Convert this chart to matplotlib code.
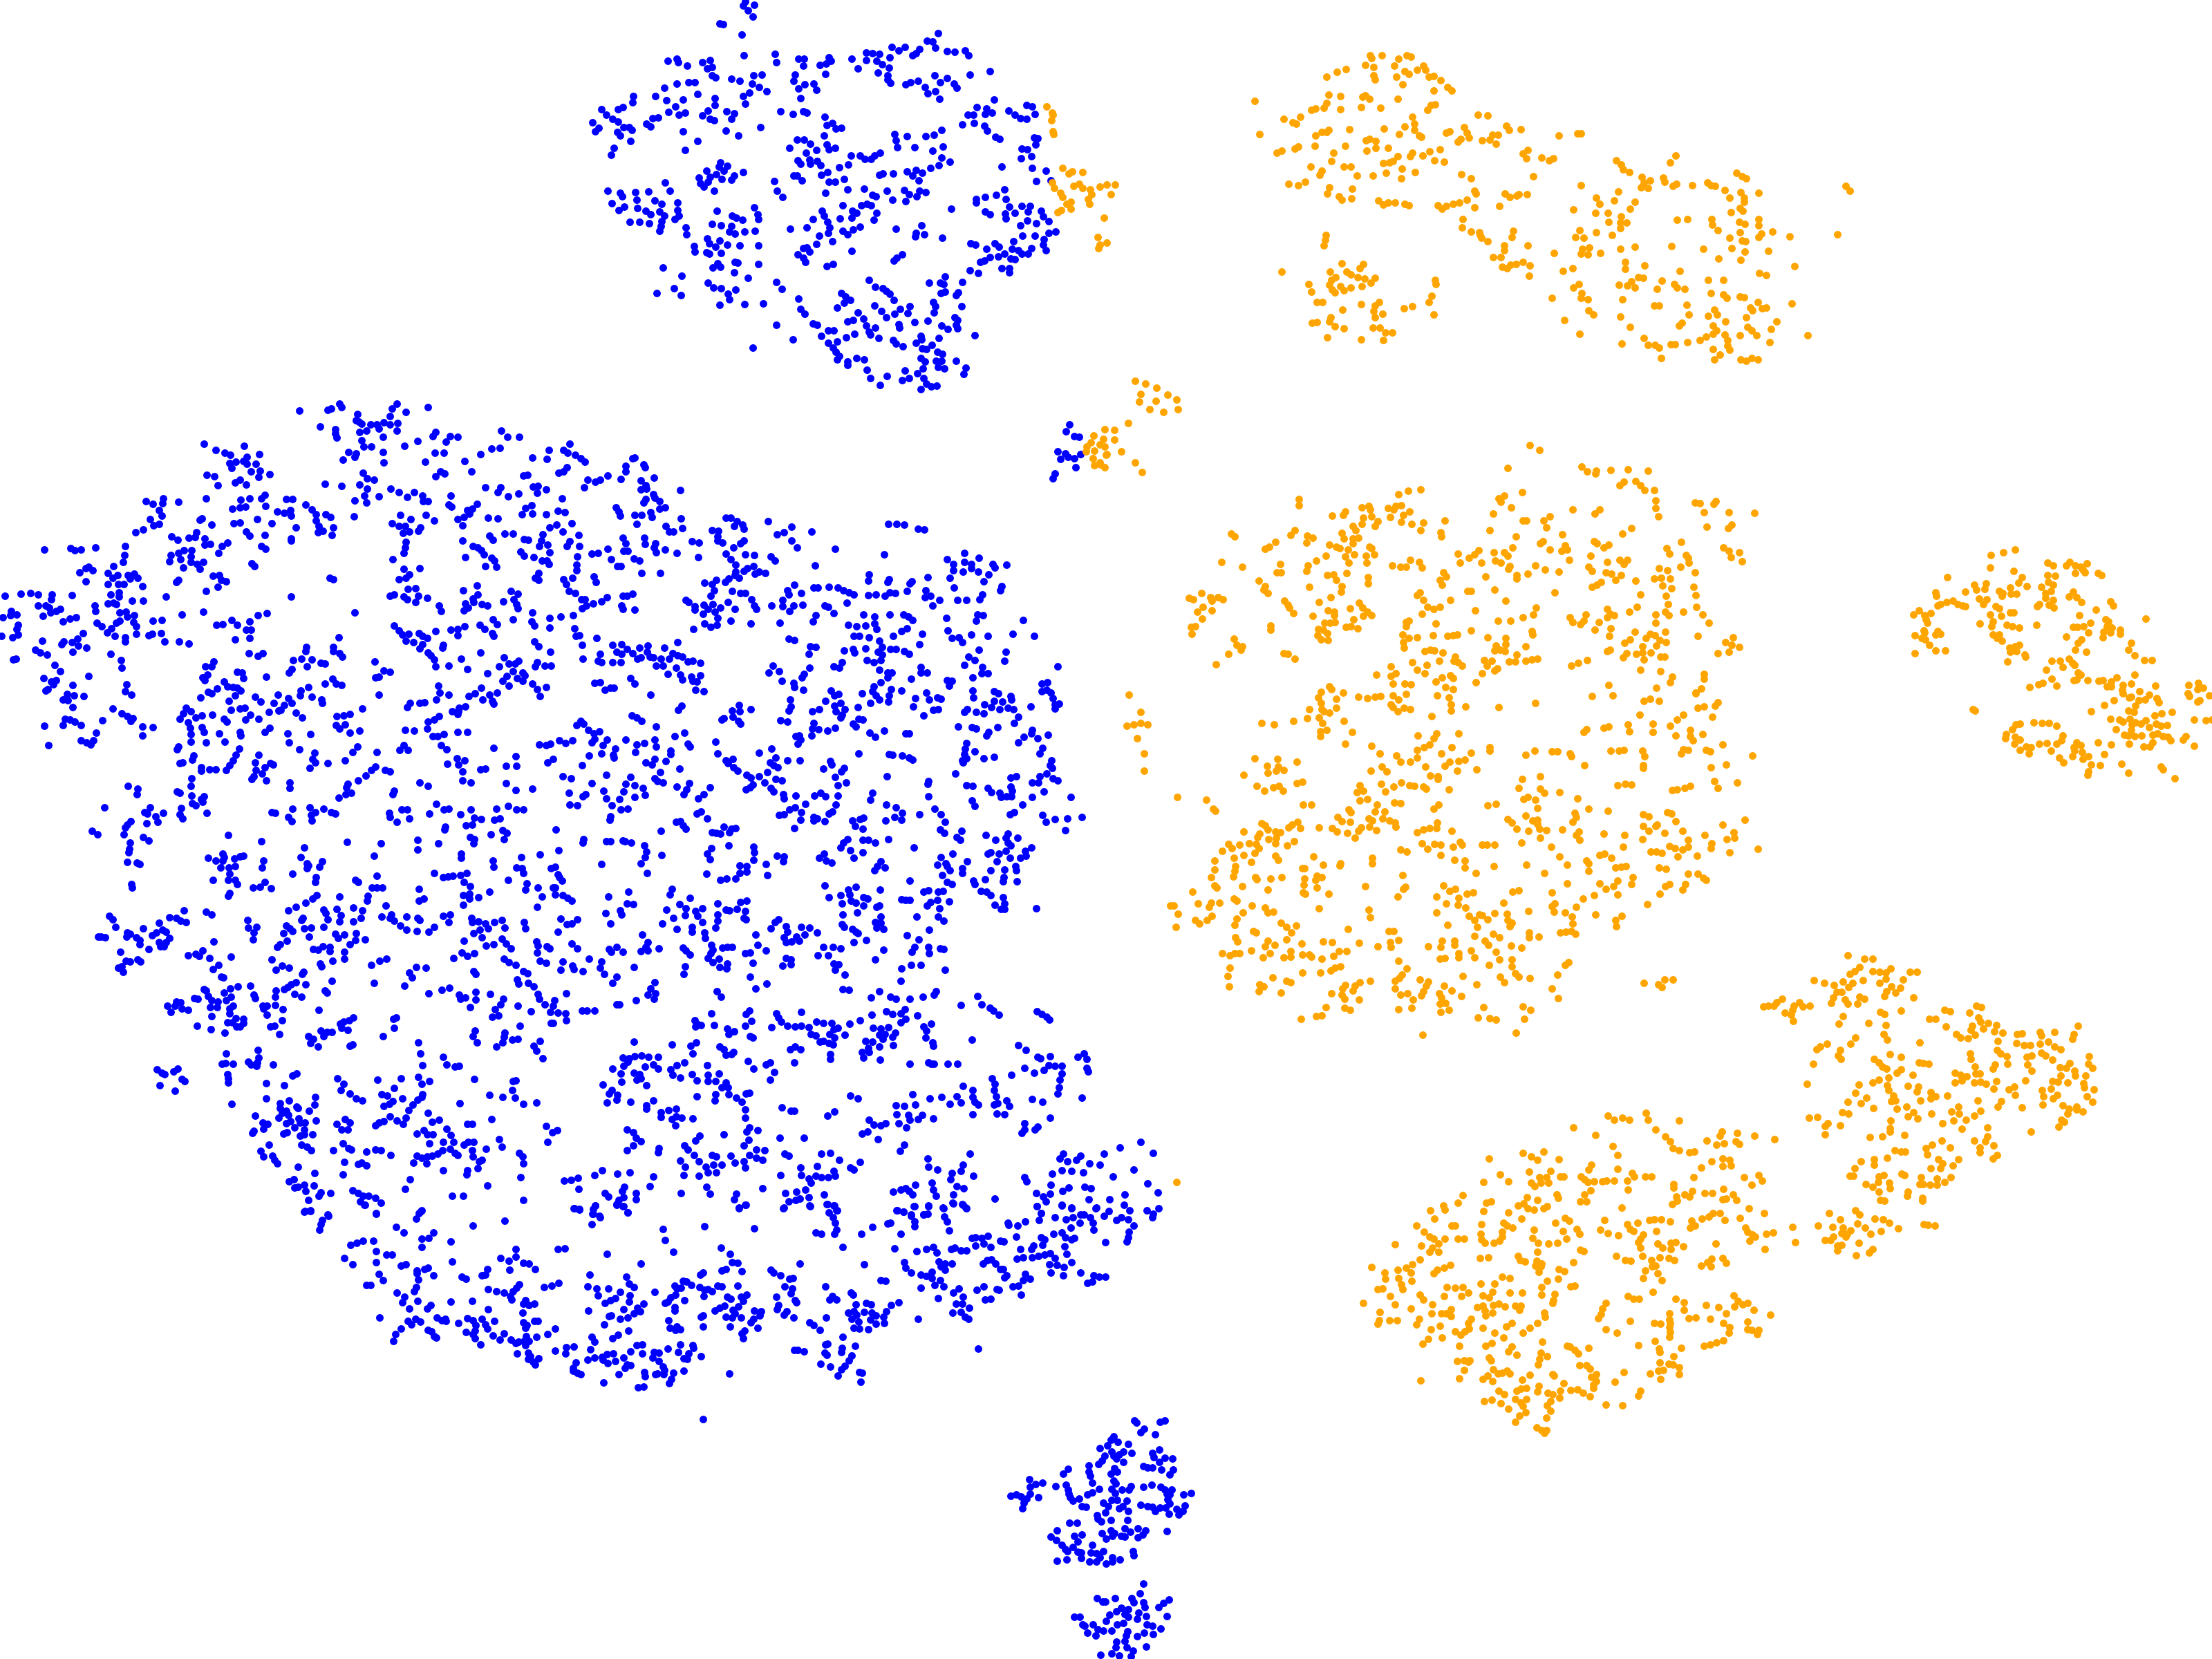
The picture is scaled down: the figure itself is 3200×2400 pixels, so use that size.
import numpy as np
import matplotlib
matplotlib.use("Agg")
import matplotlib.pyplot as plt

GRID = 1568
BLUE = "#0000ff"
ORANGE = "#ffa500"

# x0, y0, w, h of each crop in image pixels
BOX_A = (820, 0, 800, 600)
BOX_B = (0, 560, 800, 600)
BOX_C = (800, 560, 800, 600)
BOX_D = (0, 1160, 800, 600)
BOX_E = (800, 1160, 800, 600)
BOX_F = (300, 1740, 880, 660)
BOX_G = (1180, 1740, 880, 660)
BOX_H = (1780, 40, 940, 705)
BOX_I = (1680, 640, 900, 675)
BOX_J = (1680, 1000, 900, 675)
BOX_K = (2500, 760, 700, 525)
BOX_L = (1960, 1360, 1100, 825)
BOX_M = (0, 0, GRID, GRID)

blue_a = [(505,5),(500,22),(531,18),(514,40),(528,62),(433,90),(442,92),(495,130),(502,209),(590,204),(594,236),(286,231),(312,222),(316,236),(342,248),(385,236),(405,228),(412,254),(398,260),(412,285),(422,292),(467,297),(490,307),(530,285),(553,282),(525,316),(545,330),(566,344),(518,350),(500,362),(505,393),(656,223),(672,222),(671,247),(718,245),(742,218),(748,230),(735,240),(733,280),(646,283),(642,305),(656,335),(675,320),(700,315),(708,340),(662,370),(807,222),(826,258),(848,198),(866,200),(886,204),(848,228),(878,230),(893,242),(882,274),(914,256),(910,285),(910,300),(918,314),(922,178),(915,216),(940,190),(958,178),(980,208),(1000,186),(990,200),(1021,154),(1037,158),(1052,126),(1045,180),(1078,194),(1100,196),(1128,192),(1138,208),(1143,283),(1200,268),(1042,286),(1078,294),(1058,312),(1098,315),(1105,331),(960,320),(975,312),(996,306),(1015,328),(1024,354),(1044,344),(1057,374),(1212,377),(1190,410),(1162,404),(1205,425),(1185,432),(1137,433),(1153,433),(1122,470),(1155,465),(1183,475),(1192,495),(1215,518),(1226,525),(1252,419),(1270,435),(1285,448),(1304,449),(1303,397),(1319,402),(1327,432),(1325,520),(1335,523),(1328,546),(1290,562),(1305,565),(1318,590),(1287,598),(1232,629),(1319,634),(1358,646),(1372,681),(1330,684),(72,463),(90,483),(80,496),(98,414),(112,435),(130,449),(145,460),(145,413),(158,405),(188,362),(187,388),(143,498),(150,512),(160,482),(176,482),(184,490),(181,533),(133,558),(125,585),(225,468),(237,477),(243,446),(259,445),(251,362),(277,332),(312,316),(345,310),(362,312),(282,380),(330,376),(371,356),(420,370),(420,397),(308,402),(288,423),(318,435),(336,425),(385,437),(400,418),(406,450),(418,456),(330,497),(450,493),(453,420),(474,428),(466,450),(487,513),(549,481),(605,422),(640,432),(670,422),(681,426),(731,442),(736,472),(753,464),(763,487),(779,483),(730,512),(370,533),(336,567),(435,615),(432,630),(455,628),(444,645),(396,646),(423,658),(405,670),(500,652),(474,664),(440,676),(466,680),(375,671),(378,692),(388,706),(400,688),(418,721),(278,689),(292,720),(115,722),(150,730),(157,742),(194,726),(231,723),(198,756),(249,759),(127,769),(162,782),(147,794),(200,787),(223,797),(238,809),(268,772),(262,800),(276,816),(268,835),(266,855),(262,873),(178,838),(206,839),(233,845),(305,829),(318,816),(314,795),(313,765),(337,860),(340,886),(426,796),(411,847),(438,853),(468,815),(480,822),(497,832),(531,783),(540,810),(542,828),(466,855),(460,875),(477,884),(504,875),(534,873),(398,902),(404,920),(434,909),(422,932),(455,925),(490,929),(543,927),(360,930),(362,950),(395,953),(403,959),(438,957),(477,990),(485,994),(543,999),(427,995),(413,1012),(435,1010),(272,1012),(325,1043),(474,1030),(513,1051),(400,1069),(415,1087),(438,1090),(478,1095),(303,1091),(254,1107),(323,1115),(456,1111),(461,1131),(433,1153),(503,1150),(556,1147),(594,1065),(610,1092),(657,1130),(662,1167),(675,1187),(594,1227),(641,1284),(528,1315),(697,1222),(710,1227)]
blue_a2 = [(653,527),(672,527),(690,543),(708,566),(632,558),(678,578),(655,606),(662,620),(687,603),(690,620),(710,610),(720,625),(737,545),(742,565),(761,558),(806,587),(831,587),(845,600),(862,600),(872,587),(887,578),(797,623),(773,633),(738,650),(722,661),(642,664),(653,664),(667,682),(588,685),(743,687),(761,687),(785,676),(733,728),(796,716),(596,722),(612,745),(843,714),(866,737),(876,742),(908,722),(923,754),(956,718),(960,760),(970,735),(1000,720),(1018,727),(991,741),(886,660),(896,657),(926,657),(965,647),(989,643),(980,665),(1007,654),(997,683),(1031,636),(1055,625),(1086,612),(1063,597),(1037,570),(1066,555),(986,557),(936,556),(932,530),(930,508),(965,515),(1018,514),(1040,510),(1062,491),(1090,789),(783,775),(834,775),(850,771),(863,777),(810,797),(822,804),(879,804),(807,823),(775,825),(723,797),(729,815),(698,828),(739,840),(680,860),(633,866),(745,860),(740,880),(715,892),(782,873),(796,885),(812,868),(832,856),(870,830),(708,922),(752,913),(670,938),(680,935),(687,950),(655,961),(670,975),(676,990),(736,1007),(754,998),(808,949),(932,866),(1005,852),(990,880),(988,895),(1014,887),(1064,898),(950,962),(935,975),(928,985),(1160,752),(1185,746),(1160,767),(1218,737),(1240,717),(1245,753),(1254,781),(1289,778),(1314,780),(1307,800),(1185,800),(1200,811),(1243,808),(1270,805),(1245,825),(1345,798),(1350,818),(1366,837),(1305,833),(1330,843),(1286,852),(1292,891),(1326,891),(1385,875),(1366,880),(1353,903),(1351,925),(1358,945),(1317,938),(1266,912),(1262,940),(1280,945),(1290,960),(1308,960),(1213,920),(1225,932),(1190,940),(1145,921),(1158,926),(1200,971),(1224,969),(1240,960),(1258,978),(1270,980),(1172,990),(1183,985),(1143,1023),(1167,1033),(1232,1014),(1255,1015),(1255,1030),(857,1058),(874,1085),(895,1090),(905,1100),(915,1110),(928,1133),(779,1108),(790,1120),(803,1133),(785,1145),(766,1163),(873,1154),(892,1175),(905,1200),(930,1187),(945,1168),(972,1157),(967,1183),(826,1180),(840,1205),(848,1231),(796,1214),(812,1210),(875,1238),(940,1225),(942,1240),(986,1217),(1023,1212),(1027,1070),(1058,1070),(1072,1045),(1068,1075),(1121,1067),(1072,1102),(1060,1109),(1110,1105),(1103,1116),(1039,1142),(1045,1157),(1040,1180),(1119,1158),(1100,1200),(1108,1211),(1104,1228),(1107,1241),(1062,1231),(1079,1243),(1156,1268),(1055,1277),(1003,1270),(1005,1283),(990,1295),(722,1270),(740,1250),(757,1250),(767,1291),(792,1275),(815,1262),(856,1255),(860,1265),(884,1277),(926,1285),(932,1300),(953,1308),(741,1296),(755,1315),(762,1330),(772,1345),(766,1358),(796,1368),(796,1380),(822,1354),(843,1359),(850,1398),(860,1430),(888,1455),(907,1422),(958,1400),(950,1438),(970,1430),(993,1411),(1010,1393),(1008,1317),(1020,1320),(1035,1305),(1050,1331),(1065,1339),(1004,1353),(1015,1368),(1047,1365),(1062,1365),(1052,1388),(1070,1392),(1104,1363),(1130,1391),(1125,1415),(1012,1430),(1020,1450),(1048,1457),(1032,1460),(1004,1471)]
orange_a = [(1360,402),(1375,425),(1378,433),(1374,456),(1378,497),(1380,508),(1375,690),(1382,712),(1400,730),(1405,745),(1405,635),(1432,648),(1422,656),(1462,651),(1436,704),(1452,695),(1462,712),(1483,717),(1487,735),(1478,752),(1481,770),(1512,706),(1530,698),(1554,698),(1543,734),(1417,770),(1429,788),(1429,762),(1402,795),(1391,802),(1522,822),(1505,896),(1530,918),(1512,925),(1507,938)]

blue_b = [(849,89),(930,85),(938,80),(963,63),(968,75),(1125,62),(1112,82),(1150,93),(1214,77),(1013,103),(1105,110),(1010,125),(1018,130),(1025,138),(1050,142),(1068,140),(1087,132),(1127,135),(1106,141),(1075,158),(1126,165),(1020,170),(1038,165),(907,150),(950,160),(950,175),(955,190),(1086,188),(1025,200),(1030,225),(1053,225),(1085,245),(1146,221),(1184,203),(1235,170),(1227,185),(1276,185),(1298,188),(1264,206),(1232,247),(1258,248),(1421,165),(1438,187),(1471,188),(1394,233),(1417,230),(1363,253),(1318,280),(1336,320),(1206,282),(1248,320),(1235,338),(1260,326),(988,245),(1010,250),(972,274),(1005,265),(1088,286),(1510,266),(1556,238),(1551,272),(1484,335),(1495,333),(1029,325),(1040,345),(1060,350),(1020,368),(1041,383),(968,375),(921,367),(1033,410),(1006,428),(1038,437),(1075,412),(1108,385),(1131,398),(1154,415),(1174,397),(1197,410),(1200,430),(1214,430),(1277,410),(1375,380),(1420,380),(1412,396),(1440,412),(1470,402),(1512,376),(1525,375),(1523,400),(1548,388),(1273,443),(1280,452),(1352,442),(1325,465),(1338,460),(1331,478),(1315,490),(1298,498),(1311,523),(1383,495),(1411,496),(1508,448),(1490,458),(1480,480),(1510,478),(1548,481),(1135,483),(1165,498),(1207,483),(1231,505),(1004,488),(1112,516),(1131,526),(1149,524),(1191,530),(1185,543),(1160,546),(1143,552),(1558,530),(1431,553),(1454,553),(1387,563),(1398,577),(1486,574),(1497,577),(1538,556),(1535,580),(1312,579),(1150,585),(1149,607),(1144,628),(1113,650),(1340,600),(1355,606),(1365,618),(1372,633),(1393,645),(1401,655),(1319,642),(1476,622),(1486,637),(1513,643),(1529,600),(1553,597),(1558,625),(1536,656),(1551,655),(1556,670),(1375,677),(1408,680),(1145,688),(1190,684),(1160,708),(1150,720),(1131,727),(1527,703),(1517,722),(1527,728),(935,722),(944,727),(1352,751),(1314,769),(1355,783),(1157,762),(1177,760),(1105,788),(1117,785),(1144,792),(1154,802),(1185,790),(1211,796),(1178,812),(1340,800),(1319,817),(1342,812),(1366,820),(1381,827),(1427,811),(1449,772),(1469,781),(1456,802),(1465,820),(1468,836),(1245,825),(1251,848),(1316,843),(1327,833),(826,791),(1006,853),(1510,852),(1455,877),(1558,872),(1398,877),(1410,896),(1508,886),(1516,902),(1559,909),(1118,901),(1130,920),(1140,935),(1158,932),(1187,931),(1197,940),(1212,949),(1235,922),(1278,917),(1297,915),(1318,903),(1298,938),(1361,900),(1374,915),(1395,930),(1399,942),(1150,958),(1172,965),(1190,988),(1198,972),(1256,975),(1254,985),(1516,961),(1527,981),(1213,1003),(1222,1015),(1230,1030),(1234,1057),(1363,1003),(1560,1000),(1307,1026),(1272,1053),(1325,1066),(1429,1023),(1416,1057),(1442,1045),(1460,1045),(1470,1035),(1523,1040),(1544,1054),(1517,1057),(1562,1052),(1454,1075),(1381,1081),(1482,1080),(1487,1090),(1437,1093),(1425,1111),(1467,1100),(1482,1110),(1510,1122),(1442,1128),(1523,1143),(1548,1133),(1530,1167),(1364,1137),(1347,1157),(1329,1167),(1388,1162),(1409,1155),(1368,1180),(1395,1187),(1399,1197)]
blue_b2 = [(579,214),(612,238),(637,248),(652,257),(691,221),(735,253),(700,265),(690,280),(669,283),(650,287),(700,290),(726,291),(656,305),(712,318),(736,316),(765,328),(733,341),(586,332),(608,338),(617,372),(681,351),(666,360),(697,369),(414,430),(434,441),(460,440),(463,420),(505,435),(450,465),(458,485),(585,421),(682,425),(707,421),(750,408),(740,421),(752,449),(812,424),(830,424),(867,445),(658,460),(680,455),(696,452),(786,470),(806,476),(823,465),(825,487),(884,463),(895,481),(924,482),(937,491),(895,505),(904,525),(944,530),(915,543),(902,549),(941,560),(425,500),(450,517),(435,522),(405,538),(385,550),(572,497),(567,503),(599,521),(662,516),(680,511),(729,500),(771,516),(839,530),(697,545),(707,563),(751,558),(825,572),(825,581),(487,565),(503,577),(535,570),(553,567),(557,549),(580,573),(580,597),(595,592),(645,587),(630,600),(620,627),(740,601),(753,612),(355,601),(353,635),(349,662),(125,615),(200,608),(212,616),(230,615),(270,605),(484,635),(480,658),(505,628),(522,617),(543,617),(540,640),(512,650),(520,681),(541,660),(558,670),(567,686),(576,661),(714,667),(721,677),(604,713),(622,710),(627,730),(640,735),(500,737),(505,730),(618,754),(585,771),(470,792),(243,685),(226,700),(263,693),(250,680),(322,678),(305,703),(333,710),(320,720),(363,712),(380,705),(391,720),(369,725),(243,734),(305,745),(335,745),(350,745),(404,753),(58,781),(87,779),(14,788),(107,785),(147,785),(145,802),(204,787),(338,775),(337,793),(313,785),(375,807),(406,807),(305,818),(322,815),(330,820),(107,825),(130,827),(140,833),(170,838),(158,846),(143,851),(32,848),(48,860),(122,865),(30,863),(8,870),(268,825),(270,848),(357,850),(340,852),(380,863),(360,868),(216,870),(197,876),(178,887),(275,892),(288,903),(330,890),(340,884),(378,888),(387,904),(433,884),(459,881),(516,860),(577,850),(656,880),(731,862),(757,855),(708,886),(613,898),(632,896),(672,900),(50,900),(48,915),(50,935),(3,940),(35,946),(120,958),(180,962),(204,965),(219,950),(236,930),(222,977),(245,985),(303,928),(315,912),(325,940),(355,947),(355,963),(386,933),(421,937),(432,932),(457,930),(467,963),(507,962),(535,970),(697,918),(711,918),(708,949),(666,953),(961,945),(175,972),(100,992),(114,1003),(133,1012),(205,1001),(313,1008),(38,1030),(46,1027),(343,1032),(344,1060),(154,1050),(170,1074),(869,983),(866,997),(945,983),(945,998),(962,1006),(970,1020),(706,1007),(731,1016),(745,1007),(831,1033),(854,1026),(871,1056),(884,1030),(910,1044),(921,1045),(1063,1038),(1088,1072),(1105,1077),(1065,1098),(1075,1094),(605,1037),(600,1057),(582,1056),(672,1077),(686,1080),(690,1100),(588,1087),(575,1097),(580,1108),(754,1094),(827,1066),(819,1080),(251,1092),(123,1100),(145,1113),(158,1107),(150,1125),(135,1142),(129,1147),(205,1127),(358,1124),(355,1150),(372,1162),(190,1160),(210,1165),(178,1180),(193,1183),(237,1167),(635,1112),(645,1132),(660,1135),(672,1138),(682,1147),(590,1152),(600,1158),(615,1140),(568,1174),(667,1166),(648,1187),(922,1120),(943,1104),(952,1122),(968,1127),(874,1133),(852,1147),(850,1165),(787,1163),(818,1175),(884,1172),(724,1170),(738,1190),(776,1193),(805,1203),(828,1195),(790,1222),(912,1180),(913,1195),(1074,1164),(1242,1130),(1246,1155),(1237,1180),(1273,1163),(1162,1195),(1155,1209),(1190,1193),(1203,1192),(206,1211),(320,1214),(345,1233),(360,1245),(376,1252),(371,1263),(290,1259),(185,1255),(197,1257),(212,1265),(230,1277),(179,1277),(125,1280),(403,1284),(433,1286),(404,1317),(273,1307),(230,1335),(245,1344),(265,1335),(256,1352),(138,1354),(528,1213),(540,1225),(520,1233),(510,1254),(555,1250),(572,1242),(601,1239),(635,1255),(643,1264),(533,1268),(572,1285),(578,1303),(539,1288),(540,1313),(622,1310),(680,1305),(683,1316),(637,1341),(585,1342),(540,1340),(505,1360),(502,1370),(654,1221),(680,1215),(693,1212),(709,1240),(696,1258),(733,1255),(762,1227),(795,1220),(838,1230),(857,1249),(954,1245),(974,1242),(991,1236),(1027,1214),(952,1278),(978,1275),(962,1290),(992,1307),(1020,1298),(750,1305),(765,1288),(816,1310),(881,1311),(820,1344),(849,1370),(892,1382),(1014,1360),(1000,1380),(1068,1380),(1148,1297),(1174,1298),(1213,1265),(1231,1258),(1244,1244),(1299,1225),(1301,1212),(1320,1208),(1281,1225),(1298,1236),(1212,1290),(1226,1320),(1240,1320),(1258,1313),(1297,1305),(1325,1304),(1144,1354),(1132,1372),(1156,1371),(1250,1353),(1266,1370),(1400,1364),(1528,1350),(1548,1353),(1560,1348),(1462,1396),(1435,1432),(1464,1432),(1362,1445),(1375,1443),(1553,1420),(1296,1403),(1318,1412),(1269,1424),(1300,1427),(1312,1453),(978,1412),(930,1421),(886,1405),(893,1420),(879,1440),(733,1390),(724,1418),(678,1367),(668,1390),(660,1410),(650,1430),(640,1447),(549,1394),(544,1408),(517,1420),(510,1422),(570,1437),(593,1445),(611,1446),(570,1450),(767,1421),(775,1428),(750,1438),(725,1448),(742,1460),(720,1470),(714,1483),(755,1487),(543,1479),(540,1508),(821,1495),(821,1515),(1065,1436),(1053,1447),(1037,1468),(1092,1448),(1106,1452),(1015,1488),(1190,1495),(1214,1508),(1311,1488),(1335,1495),(1434,1498),(1462,1523),(1510,1518),(1117,1527),(985,1500),(981,1512),(362,1507),(390,1518),(388,1540),(502,1530),(510,1535),(543,1545),(578,1548),(570,1558),(980,1540),(960,1553),(996,1535),(1113,1540)]

blue_c = [(47,214),(30,238),(42,248),(62,257),(78,268),(90,283),(232,266),(225,270),(256,293),(260,303),(205,297),(205,318),(40,303),(30,320),(16,325),(98,349),(133,349),(120,357),(155,335),(193,348),(88,378),(287,343),(248,354),(262,370),(248,388),(264,385),(361,390),(284,405),(288,418),(302,430),(262,423),(256,436),(25,422),(178,455),(186,470),(190,487),(318,456),(302,461),(276,473),(280,491),(250,484),(231,483),(14,468),(33,473),(362,497),(238,517),(319,526),(330,547),(341,547),(367,534),(52,515),(10,520),(28,545),(72,559),(48,582),(40,600),(74,601),(198,570),(206,590),(258,571),(260,592),(290,590),(286,607),(318,615),(293,625),(351,626),(393,583),(413,589),(412,642),(155,612),(200,620),(212,620),(110,630),(127,627),(68,640),(230,648),(245,655),(164,652),(182,678),(193,676),(67,672),(67,693),(250,704),(304,702),(30,726),(55,721),(115,717),(122,736),(38,745),(45,770),(62,780),(80,803),(90,802),(153,794),(198,788),(210,788),(226,782),(137,809),(113,818),(95,826),(83,836),(195,826),(197,840),(232,842),(56,863),(22,868),(60,913),(65,940),(75,938),(123,949),(83,975),(84,1028),(168,976),(195,971),(180,1000),(210,990),(245,985),(268,978),(134,1010),(127,1035),(138,1040),(168,1040),(193,1040),(225,1005),(195,1008),(240,1028),(248,1022),(267,1000),(275,1020),(285,1022),(305,1027),(316,985),(352,965),(293,1053),(311,1052),(329,1028),(340,1005),(352,1015),(366,1018),(383,1038),(395,1034),(417,1043),(348,1060),(326,1085),(361,1088),(392,1095),(418,1090),(366,1105),(396,1110),(407,1112),(404,1145),(428,1149),(219,1100),(232,1121),(118,1118),(134,1117),(147,1144),(162,1136),(173,1138),(277,1164),(376,806),(385,812),(402,828),(428,822),(452,820),(402,842),(440,838),(426,858),(458,850),(466,873),(464,900),(430,895),(446,908),(397,915),(503,882),(560,895),(474,834),(495,812),(507,770),(515,840),(532,780),(544,779),(562,802),(570,825),(576,838),(430,740),(450,745),(463,728),(488,738),(497,723),(457,768),(446,788),(490,495),(504,495),(522,508),(514,526),(537,520),(541,535),(450,541),(469,543),(466,565),(466,580),(481,587),(532,590),(540,580),(511,605),(490,631),(503,652),(517,671),(544,632),(571,636),(568,677),(550,685),(540,695),(518,697),(516,712),(528,720),(572,706),(585,697),(601,702),(618,640),(630,656),(610,508),(636,557),(654,549),(676,527),(734,546),(677,580),(692,606),(800,611),(743,675),(938,633),(950,518),(975,518),(996,520),(1035,535),(1052,539),(1118,650),(1135,668),(1166,626),(1208,646),(1166,660),(1185,670),(1135,692),(1162,698),(1206,699),(1186,685),(1246,670),(1253,682),(1234,707),(1286,672),(1126,722),(1222,734),(1062,718),(895,708),(893,733),(953,727),(948,738),(1018,735),(1012,742),(1136,758),(1272,752),(1268,768),(1218,785),(1210,801),(1146,805),(1172,806),(1056,768),(1070,788),(1055,795),(1096,806),(1077,827),(1004,771),(970,780),(955,775),(940,790),(916,784),(893,786),(852,784),(838,777),(823,768),(808,757),(783,756),(750,757),(738,757),(685,748),(664,768),(668,783),(704,780),(650,804),(650,828),(620,827),(670,848),(682,827),(708,822),(770,825),(780,832),(833,815),(796,854),(744,863),(736,885),(643,890),(881,861),(912,868),(954,860),(993,859),(1008,868),(1020,880),(1116,872),(1204,860),(1219,862),(1200,882),(1333,880),(837,899),(860,903),(886,902),(912,895),(918,915),(988,922),(1003,911),(1046,933),(1119,921),(1130,948),(1150,945),(1160,965),(1185,935),(1233,942),(1303,932),(1365,942),(668,950),(685,957),(852,942),(868,941),(895,945),(926,960),(965,942),(1038,973),(730,980),(744,982),(933,982),(850,990),(826,995),(854,1003),(886,989),(956,990),(972,990),(996,998),(1009,1010),(922,1002),(933,1012),(725,1010),(930,1033),(890,1033),(910,1041),(1208,992),(1283,1000),(1280,1035),(1178,1018),(1195,1032),(1166,1050),(819,1039),(796,1056),(812,1060),(727,1060),(712,1085),(706,1097),(623,1053),(640,1073),(612,1079),(648,1110),(682,1118),(685,1135),(709,1144),(1042,1058),(1043,1080),(1060,1078),(926,1070),(948,1080),(960,1080),(948,1098),(1016,1102),(929,1115),(1118,1107),(1130,1111),(1123,1130),(1190,1097),(1217,1058),(1215,1083),(1232,1082),(1430,1056),(1385,1120),(1401,1115),(1386,1150),(1400,1145),(1412,1154),(1418,1175),(1189,1147),(1192,1173),(1250,1150),(1262,1158),(1298,1168),(1299,1180),(1251,1186),(1274,1190),(1435,1198),(1423,1200),(1422,1215),(1354,1208),(1223,1200),(1243,1211),(1266,1219),(1289,1212),(1306,1217),(1175,1218),(1166,1228),(1200,1228),(1222,1233),(1319,1247),(1307,1270),(1149,1283),(1187,1285),(1200,1290),(1260,1285),(909,1131),(1058,1154),(988,1148),(959,1143),(906,1150),(916,1165),(877,1157),(788,1146),(798,1165),(810,1160),(952,1165),(925,1180),(950,1190),(899,1193),(1027,1175),(1067,1180),(1090,1173),(1100,1178),(673,1182),(675,1208),(668,1222),(773,1187),(798,1205),(815,1193),(864,1210),(802,1225),(828,1218),(735,1226),(754,1219),(820,1240),(815,1250),(1022,1208),(1091,1217),(1078,1220),(1050,1241),(561,1218),(527,1202),(508,1222),(530,1225),(510,1247),(484,1253),(478,1258),(525,1262),(531,1272),(365,1205),(355,1220),(224,1241),(238,1250),(250,1263),(293,1284),(645,1260),(664,1265),(738,1270),(735,1291),(752,1294),(779,1298),(800,1288),(850,1272),(866,1255),(878,1257),(858,1283),(898,1307),(938,1298),(914,1323),(1000,1309),(1010,1310),(698,1317),(687,1320),(733,1318),(702,1333),(694,1348),(1358,1296),(1356,1310),(1373,1327),(1403,1315),(1235,1305),(1229,1317),(1334,1323),(1320,1343),(1388,1364),(1380,1385),(1173,1347),(1168,1368),(1166,1388),(1196,1376),(1172,1404),(1160,1412),(1222,1403),(1250,1398),(1162,1420),(1413,1412),(1410,1430),(1415,1441),(78,1262),(67,1279),(87,1272),(100,1296),(115,1310),(132,1302),(117,1330),(110,1342),(152,1332),(142,1355),(205,1334),(177,1366),(55,1336),(18,1336),(36,1346),(258,1345),(288,1332),(238,1352),(292,1360),(234,1380),(334,1375),(333,1387),(345,1320),(373,1307),(382,1348),(388,1360),(461,1341),(466,1384),(137,1386),(101,1394),(170,1390),(172,1400),(0,1406),(263,1420),(288,1405),(280,1426),(320,1414),(82,1430),(358,1442),(303,1456),(620,1367),(584,1382),(632,1402),(665,1411),(700,1410),(615,1418),(625,1430),(637,1438),(490,1410),(510,1406),(495,1422),(512,1437),(524,1450),(766,1442),(786,1413),(789,1428),(826,1440),(818,1452),(867,1384),(952,1388),(962,1389),(989,1393),(1010,1402),(1020,1408),(607,1455),(549,1466),(584,1470),(560,1477),(632,1483),(648,1488),(600,1494),(566,1502),(558,1512),(547,1520),(151,1467),(28,1470),(50,1480),(220,1475),(110,1498),(288,1480),(296,1490),(312,1495),(205,1500),(232,1505),(255,1515),(350,1510),(386,1498),(379,1520),(444,1512),(46,1535),(92,1540),(85,1548),(143,1525),(200,1530),(370,1540),(428,1538),(231,1550),(260,1541),(150,1555),(189,1558),(411,1556),(617,1515),(625,1530),(652,1538),(688,1545),(655,1555),(740,1545),(758,1533),(772,1548),(808,1545),(799,1475),(807,1505),(831,1495),(947,1470),(1140,1460),(1065,1490),(1063,1500),(1173,1505),(1190,1508),(1233,1516),(1242,1532),(1297,1477),(1313,1472),(1298,1510),(1301,1525),(1267,1534),(1270,1551),(1285,1548),(1300,1548),(1358,1494),(1380,1472),(1375,1495),(1400,1462),(1418,1478),(1430,1488),(1392,1530),(1359,1549),(1468,1549),(906,1535),(900,1560),(1065,1547),(1187,1562)]
orange_c = [(1533,184),(1560,195),(1565,160),(1565,225),(1514,225),(1535,240),(1530,270),(1535,295),(1552,292),(1565,302),(1568,255)]
blue_c2 = [(1464,140),(1455,167),(1477,185),(1491,188),(1431,242),(1453,252),(1460,263),(1495,253),(1438,273),(1481,303),(1422,327),(1418,345),(1477,270)]

blue_d = [(295,22),(425,21),(514,24),(545,5),(555,12),(575,0),(410,40),(418,45),(462,43),(441,55),(510,46),(517,62),(586,42),(370,73),(361,85),(354,97),(415,80),(446,75),(351,122),(260,110),(276,124),(405,132),(422,147),(369,153),(367,177),(364,192),(360,228),(388,230),(395,236),(373,310),(375,323),(646,126),(741,149),(589,212),(631,197),(612,222),(636,210),(632,222),(625,248),(648,247),(666,244),(664,214),(680,207),(690,205),(651,272),(603,296),(646,296),(667,296),(672,312),(717,323),(737,322),(750,302),(769,327),(651,345),(646,356),(747,222),(742,248),(862,172),(852,210),(870,232),(875,240),(870,252),(906,245),(914,225),(829,272),(895,284),(893,302),(984,152),(1080,157),(1061,205),(1068,280),(1008,294),(1016,303),(1055,324),(1068,324),(1083,324),(1043,356),(1040,375),(1183,145),(1184,181),(1243,157),(1307,195),(1308,212),(1230,268),(1256,285),(1270,282),(1284,280),(1305,276),(1323,270),(1316,303),(1333,320),(1187,329),(1314,352),(1330,348),(1331,365),(1357,361),(1388,340),(1187,373),(1202,365),(1314,390),(1093,393),(770,40),(781,42),(830,25),(878,22),(893,38),(882,50),(817,57),(828,72),(883,70),(917,25),(939,38),(950,45),(1103,42),(1105,58),(1125,75),(1138,30),(1154,30),(1160,64),(1218,45),(1236,8),(1258,30),(1272,25),(1305,47),(1335,30),(1345,60),(1365,66),(1321,88),(1339,85),(1262,95),(1261,105),(1407,27),(1402,68),(1418,64),(1440,15),(1465,30),(1483,30),(1333,133),(1345,140),(1342,157),(1391,122),(1424,108),(1437,118),(1428,141),(1478,210),(1531,199),(1397,222),(1400,245),(1465,247),(1480,250),(1484,270),(1562,250),(1441,294),(1494,308),(1490,332),(1524,324),(1536,357),(1568,325),(1523,398),(897,352),(886,367),(867,381),(962,359),(839,396),(818,411),(955,405),(1002,400),(917,407),(924,420),(929,445),(967,428),(963,452),(1002,452),(1027,410),(1023,438),(858,440),(855,447),(862,477),(882,475),(917,473),(812,468),(822,478),(829,488),(804,497),(813,524),(877,509),(951,500),(958,515),(976,503),(1010,497),(1007,522),(1035,521),(992,538),(793,538),(785,550),(887,557),(901,558),(916,545),(934,548),(935,565),(977,568),(976,592),(943,600),(770,595),(907,611),(912,623),(799,619),(820,626),(783,636),(857,650),(860,644),(941,678),(838,681),(826,690),(815,700),(805,708),(866,689),(783,714),(835,727),(855,736),(780,738),(921,714),(927,721),(709,695),(720,730),(724,741),(1082,433),(1105,438),(1110,425),(1118,450),(1153,433),(1135,469),(1153,483),(1181,488),(1184,440),(1190,448),(1215,490),(1230,473),(1256,431),(1276,426),(1272,455),(1336,438),(1338,455),(1356,453),(1376,460),(1401,456),(1423,447),(1431,476),(1384,478),(1360,484),(1342,497),(1366,512),(1422,517),(1434,535),(1449,555),(1400,538),(1378,544),(1315,525),(1486,455),(1490,477),(1520,527),(1525,543),(1551,545),(1558,553),(1522,570),(1530,602),(1549,610),(1429,592),(1443,606),(1463,618),(1310,570),(1286,590),(1345,573),(1324,584),(1052,617),(1076,600),(1095,592),(1161,645),(1168,665),(1180,625),(1207,626),(1343,640),(1348,650),(1147,694),(1060,685),(1253,710),(1274,702),(1215,724),(1301,730),(1320,740),(1349,719),(1348,747),(1306,745),(1390,726),(1426,746),(1420,767),(1333,775),(1404,784),(1396,814),(1414,808),(1468,772),(1505,793),(1470,688),(1484,640),(1496,648),(1466,672),(1498,685),(1513,697),(1525,727),(1529,745),(1544,765),(1560,795),(1562,835),(1473,848),(1116,820),(1124,816),(1117,855),(1086,887),(1346,866),(1340,885),(1353,910),(1430,873),(1428,888),(1424,910),(1407,925),(1452,900),(1468,896),(1530,905),(1513,923),(1521,942),(1538,970),(1186,910),(1191,950),(1197,995),(1257,964),(1266,993),(1289,1002),(1302,998),(1344,1047),(1137,1045),(1185,1040),(1218,1056),(1071,1051),(1195,1065),(1118,1083),(1082,1105),(1097,1110),(1141,1120),(1197,1105),(1195,1115),(1183,1127),(1170,1144),(1113,1132),(1103,1141),(1087,1149),(1158,1165),(1304,1140),(1388,1108),(1424,1117),(1461,1119),(1484,1143),(1520,1137),(1455,1055),(1462,1053),(1453,1090),(1213,1175),(1245,1203),(1225,1211),(1105,1188),(1126,1206),(1150,1195),(1143,1218),(1088,1208),(1075,1213),(1064,1222),(1325,1218),(1338,1217),(1394,1200),(1181,1254),(1202,1242),(1212,1256),(1227,1258),(1267,1237),(1277,1259),(1285,1285),(1217,1290),(1257,1287),(1315,1295),(1327,1285),(1342,1287),(1338,1316),(1340,1341),(1377,1311),(1415,1274),(1422,1305),(1552,1285),(1549,1226),(1566,1249),(1254,1318),(1275,1312),(1289,1328),(1298,1335),(1240,1331),(1225,1338),(1211,1340),(1195,1345),(1182,1337),(1173,1364),(1209,1367),(1358,1358),(1366,1353),(1355,1386),(1472,1327),(1482,1340),(1484,1367),(1257,1393),(1324,1393),(1323,1408),(1476,1420),(1162,1427),(1148,1463),(1382,1450),(1281,1489),(1313,1489),(1484,1506)]
blue_d2 = [(640,952),(732,938),(630,990),(638,988),(660,990),(704,983),(711,992),(733,968),(730,985),(727,997),(775,992),(445,1012),(458,1024),(467,1030),(491,1018),(503,1010),(516,1048),(523,1055),(452,1072),(495,1093),(645,1030),(646,1045),(647,1062),(755,1063),(806,1072),(755,1120),(656,1142),(829,1035),(840,1028),(893,1117),(891,1145),(957,1046),(974,1066),(966,1089),(992,1103),(1010,1120),(1028,1130),(820,1130),(793,1140),(793,1158),(800,1175),(840,1152),(844,1157),(877,1169),(811,1167),(817,1183),(790,1195),(723,1187),(846,1198),(850,1213),(824,1208),(811,1215),(865,1213),(896,1205),(834,1230),(744,1213),(759,1218),(720,1243),(715,1253),(746,1237),(814,1248),(803,1255),(862,1240),(863,1257),(851,1262),(885,1256),(955,1217),(979,1200),(992,1212),(968,1240),(985,1240),(762,1295),(739,1320),(772,1337),(747,1340),(778,1355),(786,1368),(854,1297),(870,1304),(882,1318),(944,1317),(972,1290),(988,1310),(995,1314),(1038,1322),(1064,1315),(1080,1316),(1107,1336),(976,1361),(1015,1370),(1025,1365),(1039,1374),(845,1381),(891,1403),(972,1408),(820,1435),(833,1428),(835,1459),(845,1455),(862,1449),(866,1471),(889,1451),(910,1476),(904,1489),(937,1479),(875,1505),(864,1547),(881,1546),(1000,1469),(1015,1480),(1029,1490),(1045,1489),(1064,1498),(1080,1515),(1022,1510),(1035,1524),(1195,1545),(1187,1556),(930,1561),(1066,1556)]
blue_d3 = [(310,431),(319,445),(327,473),(406,477),(450,458),(480,437),(500,440),(512,450),(527,456),(521,410),(585,415),(600,425),(461,483),(470,492),(442,493),(431,505),(278,509),(286,510),(298,512),(360,493),(368,498),(358,510),(386,512),(396,522),(396,538),(480,516),(470,530),(451,530),(455,545),(465,547),(421,557),(605,528),(342,566),(574,561),(554,576),(534,581),(565,583),(594,590),(654,585),(357,601),(369,603),(390,595),(398,603),(335,627),(345,622),(348,642),(620,618),(603,632),(627,660),(633,665),(702,448),(704,476),(728,474),(719,494),(718,519),(550,741),(561,745),(578,709),(585,713),(590,735),(600,750),(595,775),(617,754),(615,775),(636,720),(653,706),(674,699),(655,737),(640,749),(660,772),(650,782),(650,800),(600,811),(474,772),(500,755),(512,758),(496,770),(516,781),(533,787),(485,794),(559,848),(597,861),(645,833),(658,833),(637,873),(668,817),(690,820),(671,850),(680,850),(690,837),(745,770),(757,770),(780,768),(747,782),(802,784),(757,804),(800,827),(767,850),(778,847),(791,877),(875,886),(887,897),(880,912),(902,926),(917,887),(910,865),(928,870),(940,871),(903,786),(965,840),(975,830),(990,826),(1002,815),(968,855),(985,862),(992,922),(1000,918)]

blue_e = [(47,10),(69,12),(167,14),(193,30),(212,25),(163,55),(160,68),(408,44),(420,36),(438,64),(349,76),(360,72),(369,88),(377,103),(306,109),(7,105),(485,93),(505,102),(517,100),(450,115),(462,117),(474,120),(500,115),(640,50),(655,48),(670,30),(686,20),(716,8),(703,40),(701,68),(738,58),(748,62),(771,73),(738,70),(684,99),(783,45),(792,37),(801,10),(848,70),(870,65),(880,60),(856,92),(878,101),(943,70),(969,58),(990,42),(988,68),(1039,48),(972,20),(945,10),(1082,25),(1100,47),(1112,77),(1097,104),(1110,118),(1158,111),(1145,132),(1155,143),(1196,15),(1295,48),(1307,38),(1330,10),(1387,49),(1397,75),(1422,65),(1459,62),(1500,57),(1452,106),(1226,126),(1254,143),(1289,120),(1283,135),(1318,135),(1290,153),(1298,165),(1240,192),(1232,197),(1265,195),(1357,173),(1338,185),(1340,203),(1325,212),(1296,211),(1283,185),(1258,225),(1312,243),(1280,255),(1241,260),(1314,258),(1278,285),(1275,300),(1315,300),(1225,293),(1192,298),(1195,312),(1214,337),(1228,341),(1240,352),(1276,360),(1279,385),(1253,389),(1270,405),(1280,405),(1370,402),(87,140),(85,155),(150,148),(162,148),(197,146),(204,148),(221,155),(258,165),(265,187),(260,210),(248,232),(307,200),(16,182),(137,236),(267,270),(5,245),(13,275),(18,285),(25,297),(448,174),(437,196),(444,218),(435,271),(498,165),(569,170),(570,192),(568,220),(530,240),(549,242),(604,236),(607,278),(548,264),(530,270),(518,290),(474,295),(492,290),(635,203),(655,207),(652,224),(754,212),(768,197),(775,223),(790,230),(1024,173),(834,140),(823,155),(816,173),(843,183),(853,211),(878,192),(878,143),(894,143),(913,153),(950,142),(912,260),(919,242),(930,226),(940,247),(1100,210),(1132,197),(1113,233),(1089,237),(1118,243),(1126,258),(1175,224),(1160,250),(1160,268),(1103,277),(1117,303),(1131,311),(1012,298),(770,315),(858,322),(836,332),(928,333),(783,361),(816,353),(840,350),(820,384),(845,375),(880,360),(892,365),(880,392),(858,381),(925,392),(917,398),(862,417),(822,426),(929,435),(914,455),(930,458),(936,482),(918,475),(820,462),(826,473),(848,482),(858,490),(865,497),(853,530),(888,522),(1065,335),(1050,341),(1092,340),(1105,337),(1071,378),(1089,370),(1060,393),(1124,376),(1096,402),(1030,433),(1091,435),(1107,449),(988,368),(1000,370),(1012,372),(1067,483),(1004,505),(1037,520),(1064,548),(1026,550),(1018,567),(1067,573),(1098,553),(1107,556),(936,560),(913,596),(1112,635),(1016,616),(1043,618),(988,630),(985,678),(5,323),(5,350),(28,353),(42,362),(52,373),(156,358),(190,409),(195,425),(148,421),(213,340),(210,385),(228,388),(163,460),(22,441),(40,463),(52,460),(68,445),(13,490),(337,328),(332,350),(388,364),(359,388),(376,402),(321,407),(342,439),(375,428),(410,430),(423,403),(404,413),(310,461),(351,481),(394,473),(394,490),(424,456),(430,494),(432,515),(467,385),(466,425),(466,450),(461,475),(490,408),(500,411),(522,405),(531,378),(548,375),(544,412),(540,440),(547,445),(618,478),(630,455),(638,443),(661,470),(665,491),(704,474),(727,475),(713,503),(749,494),(574,502),(580,540),(604,563),(655,513),(660,530),(677,528),(690,510),(697,524),(252,502),(268,530),(263,550),(249,565),(269,562),(300,554),(53,537),(68,555),(158,557),(165,567),(180,548),(197,568),(448,540),(452,560),(481,551),(493,550),(507,549),(368,552),(376,563),(388,577),(447,572),(439,590),(453,605),(471,594),(545,573),(558,570),(566,608),(101,593),(138,604),(28,604),(133,627),(54,620),(58,632),(22,635),(85,639),(145,650),(229,624),(180,660),(168,685),(375,622),(371,650),(473,625),(491,629),(494,612),(558,660),(575,705),(605,687),(660,590),(675,597),(650,619),(675,615),(795,612),(810,615),(800,635),(750,579),(780,580),(767,548),(793,548),(815,553),(827,654),(822,708),(839,711),(289,681),(276,705),(290,725),(268,728),(287,746),(37,724),(236,750),(180,767),(188,767),(4,750),(0,772),(14,797),(35,799),(82,789),(96,789),(117,790),(37,827),(0,835),(464,716),(476,736),(448,800),(402,825),(408,840),(420,845),(403,850),(457,845),(546,803),(557,790),(562,828),(545,847),(493,858),(498,878),(514,868),(559,885),(567,892),(634,800),(638,815),(620,852),(646,832),(665,848),(686,850),(703,795),(704,848),(725,852),(747,830),(767,836),(790,837),(795,860),(808,855),(731,877),(745,884),(784,877),(797,890),(828,881),(757,908),(766,905),(782,912),(794,917),(840,838),(870,826),(1049,737),(1085,717),(1080,730),(926,716),(902,739),(957,737),(972,745),(1012,745),(944,792),(962,802),(985,800),(997,785),(903,805),(1000,820),(985,833),(1033,808),(1072,840),(1050,850),(1058,865),(1057,890),(907,855),(929,858),(950,852),(925,880),(940,878),(970,872),(935,897),(963,888),(886,905),(905,906),(965,920),(926,926),(893,930),(876,945),(895,945),(881,966),(928,976),(1077,910),(1078,922),(1157,768),(1204,734),(1216,767),(1238,780),(1248,790),(1265,805),(1372,793),(1385,802),(1400,812),(1408,822),(1188,900),(229,908),(338,917),(390,922),(405,910),(395,950),(473,926),(485,935),(512,945),(490,957),(505,955),(686,925),(672,935),(702,935),(786,955),(786,973),(684,984),(198,966),(215,970),(232,962),(250,960),(270,965),(297,965),(168,1010),(200,998),(192,1026),(212,982),(260,1002),(284,993),(298,1008),(230,1025),(245,1030),(237,1050),(248,1045),(265,1072),(194,1058),(142,1070),(167,1090),(158,1102),(182,1107),(180,1127),(153,1137),(219,1133),(285,1128),(265,1147),(265,1160),(333,1012),(350,995),(372,985),(340,1033),(360,1043),(394,1030),(407,1053),(438,995),(470,1026),(440,1033),(460,1055),(439,1055),(490,1060),(478,1080),(495,1080),(553,980),(568,1010),(604,993),(615,985),(627,1023),(616,1050),(407,1112),(461,1105),(498,1105),(520,1118),(546,1103),(556,1100),(459,1130),(535,1134),(544,1162),(544,1193),(648,1155),(675,1168),(685,1168),(778,1187),(797,1171),(843,1110),(865,1122),(306,1173),(328,1165),(348,1160),(305,1192),(338,1200),(348,1190),(365,1193),(395,1196),(347,1222),(11,1241),(209,1238),(227,1248),(235,1270),(248,1283),(228,1298),(210,1318),(300,1310),(298,1325),(372,1300),(382,1315),(404,1281),(415,1262),(485,1258),(540,1298),(554,1277),(549,1247),(557,1232),(580,1241),(643,1270),(712,1270),(577,1315),(600,1318),(656,1330),(668,1338),(760,1331),(785,1327),(812,1354),(870,1362),(842,1382),(853,1390),(400,1335),(450,1335),(462,1340),(360,1356),(413,1358),(375,1380),(433,1380),(503,1338),(515,1364),(479,1373),(455,1371),(540,1360),(556,1335),(577,1345),(593,1354),(440,1400),(463,1400),(545,1383),(370,1412),(413,1415),(644,1410),(702,1383),(704,1412),(748,1376),(795,1395),(745,1415),(725,1425),(731,1440),(760,1418),(780,1420),(800,1415),(140,1392),(182,1405),(218,1402),(117,1411),(285,1416),(71,1422),(32,1432),(50,1430),(72,1463),(275,1452),(201,1456),(196,1470),(147,1478),(157,1492),(235,1478),(200,1495),(235,1503),(187,1505),(180,1522),(197,1530),(211,1552),(362,1480),(435,1455),(445,1483),(520,1482),(513,1502),(546,1523),(527,1535),(593,1460),(658,1480),(690,1473),(716,1465),(725,1495),(668,1511),(688,1505),(700,1500),(728,1527),(654,1535),(769,1485),(777,1520),(797,1527),(803,1545),(60,1537),(74,1540),(120,1525),(113,1540),(113,1557),(131,1566),(1028,1448),(1000,1460),(965,1473),(985,1465),(1010,1470),(1020,1485),(1075,1440),(1090,1390),(1130,1403),(1157,1395),(1163,1373),(1127,1427),(1191,1413),(1145,1452),(1165,1460),(1078,1467),(1085,1490),(1135,1485),(1253,1500),(1133,1515),(1160,1520),(1170,1535),(1105,1535),(1065,1528),(1023,1528),(975,1544),(994,1550),(1065,1380),(1015,1560),(1050,1560),(1337,1420),(1343,1435),(1412,1448),(1462,1458),(1507,1455),(1524,1460),(1444,1472),(1370,1480),(1389,1492),(1410,1483),(1398,1510),(1519,1503),(1443,1525),(1470,1535),(1372,1528),(1540,1535),(1383,1555),(1495,1560),(1443,1393),(1470,1395),(1504,1400),(1415,1407),(1459,1358),(1447,1330),(1437,1348),(1496,1338),(1484,1355),(1520,1368),(1551,1371),(1562,1330)]
blue_e2 = [(1012,990),(1065,985),(1080,990),(1120,990),(1147,990),(1073,990),(1244,1045),(1252,1065),(1250,1090),(1257,1112),(1260,1140),(1285,1130),(1294,1150),(1250,1145),(1258,1178),(1280,1180),(1189,1090),(1190,1115),(1195,1135),(1205,1145),(1163,1075),(1145,1113),(1101,1115),(1125,1143),(1157,1137),(1190,1180),(1069,1122),(1020,1105),(1027,1144),(972,1146),(996,1150),(975,1180),(1008,1185),(1047,1184),(1078,1197),(1012,1203),(1035,1200),(980,1214),(1002,1230),(942,1216),(930,1222),(910,1220),(896,1203),(891,1247),(876,1254),(921,1276),(995,1296),(984,1320),(1063,1349),(1182,1330),(1320,920),(1340,937),(1373,964),(1382,970),(1409,963),(1406,995),(1422,998),(1443,997),(1364,1025),(1336,1006),(1391,1014),(1443,1027),(1437,1050),(1435,1078),(1430,1103),(1299,1033),(1487,965),(1506,952),(1513,973),(1514,1005),(1517,1018),(1359,1125),(1387,1135),(1500,1118),(1410,1194),(1337,1214),(1373,1228),(1367,1238),(1337,1240),(1328,1253)]

blue_f = [(250,30),(266,27),(312,44),(296,60),(292,74),(288,92),(405,8),(435,38),(550,28),(538,55),(487,82),(506,102),(684,79),(766,61),(945,20),(958,24),(1000,10),(993,38),(1012,50),(991,73),(1054,8),(1073,12),(1083,33),(1175,90),(1180,128),(1282,80),(1409,88),(1568,103),(1485,18),(1370,18),(1387,8),(1553,12),(583,102),(570,120),(552,123),(427,131),(401,130),(385,138),(369,146),(627,134),(552,153),(435,166),(461,178),(476,178),(353,191),(375,212),(435,205),(631,201),(794,160),(795,185),(777,200),(755,191),(815,206),(828,208),(845,228),(778,231),(721,229),(903,160),(921,156),(1029,175),(1118,210),(1201,169),(1323,154),(1347,175),(1352,205),(1366,207),(1527,208),(1378,235),(1337,228),(1325,233),(1277,240),(1270,246),(499,217),(512,211),(539,232),(560,229),(569,224),(583,250),(539,243),(543,264),(442,245),(452,265),(410,282),(420,282),(655,255),(666,261),(708,250),(717,246),(986,248),(1079,255),(1087,278),(1100,290),(1452,230),(1460,240),(1478,249),(1501,261),(1510,258),(1487,287),(1507,294),(1503,312),(804,281),(796,293),(788,305),(905,276),(888,286),(868,291),(980,288),(1004,295),(1034,294),(1063,306),(1205,285),(1210,295),(1225,268),(1235,270),(1221,292),(1247,282),(1268,291),(1282,300),(1290,296),(1300,303),(1315,284),(1326,287),(1367,284),(538,291),(533,303),(488,309),(508,322),(502,341),(542,337),(627,339),(682,337),(723,298),(745,304),(764,309),(780,320),(784,333),(1006,319),(1051,327),(1039,335),(1024,345),(1089,319),(1087,340),(1125,347),(1153,307),(1193,325),(1206,315),(1186,340),(1229,336),(1280,320),(1340,322),(1349,330),(1390,316),(1376,322),(1381,337),(1466,323),(1515,335),(1518,343),(575,352),(566,363),(520,363),(815,346),(820,335),(828,352),(842,348),(812,378),(723,366),(982,370),(1072,367),(1108,362),(1116,373),(1100,379),(1083,395),(1180,345),(1205,358),(1204,370),(1308,371),(1320,360),(1333,353),(1368,357),(1355,368),(1360,380),(1337,391),(1353,394),(1376,395),(1410,371),(1427,372),(1424,387),(1471,352),(1469,366),(1494,372),(1486,385),(1511,394),(443,395),(591,395),(613,400),(604,405),(615,407),(536,400),(517,407),(525,417),(548,409),(647,413),(670,397),(684,404),(708,398),(692,420),(716,417),(721,432),(740,407),(815,411),(824,420),(820,430),(843,407),(851,406),(1035,390),(1040,388),(1064,398),(1189,403),(1023,417),(1272,393),(1277,387),(1400,410),(1407,400),(1419,429),(1278,426),(1347,425),(1552,410),(1562,421),(499,432),(485,451),(479,474),(568,436),(577,442),(585,458),(590,464),(667,444),(690,440),(685,452),(690,465),(736,456),(764,449),(754,470),(783,470),(794,483),(801,477),(703,488),(816,475),(822,459),(829,474),(849,461),(877,452),(897,433),(820,490),(1086,440),(1058,453),(1045,466),(990,462),(997,477),(1192,430),(1210,425),(1206,437),(1219,435),(1385,440),(1377,448),(1381,466),(896,508),(925,496),(945,494),(923,518),(988,504),(1106,490),(1121,488),(1090,511),(1121,518),(1187,501),(1218,488),(1250,490),(1252,500),(1151,513),(1163,516),(1213,514),(1240,517),(1273,527),(1513,507),(1522,505),(1537,510),(799,518),(826,515),(832,527),(853,534),(826,537),(840,546),(844,555),(1046,517),(1029,520),(1018,530),(1020,540),(997,533),(980,540),(1031,550),(1052,544),(1072,532),(1147,533),(1163,544),(1236,537),(1228,534),(949,549),(942,567),(943,578),(953,585),(963,590),(1082,557),(1090,558),(1077,567),(1175,562),(1178,575),(1126,583),(1154,588),(1160,587),(1176,590),(1201,585),(1228,578),(1060,590),(1128,597),(1345,587),(1021,618),(1196,605),(1190,620),(1110,635),(1124,632),(1277,743)]

blue_g = [(30,5),(34,33),(47,10),(55,25),(45,50),(50,70),(53,92),(48,106),(15,106),(118,108),(146,84),(210,25),(226,32),(254,12),(291,10),(278,40),(288,38),(246,44),(255,65),(254,80),(186,72),(192,68),(220,108),(330,18),(354,2),(380,8),(388,18),(332,48),(338,65),(343,95),(70,152),(203,157),(260,167),(285,160),(303,153),(312,170),(350,160),(358,155),(375,165),(388,163),(124,212),(228,205),(232,223),(245,240),(270,248),(285,253),(300,238),(300,260),(306,282),(320,267),(330,287),(317,202),(333,210),(322,218),(334,231),(351,210),(168,267),(180,268),(270,292),(25,287),(90,308),(97,317),(42,320),(35,333),(54,332),(130,345),(104,350),(143,350),(213,342),(195,352),(182,373),(84,377),(98,372),(105,385),(125,376),(145,377),(155,387),(175,392),(92,400),(110,408),(140,402),(155,415),(176,413),(98,430),(112,432),(136,435),(26,394),(11,436),(315,329),(354,309),(369,294),(380,322),(362,348),(378,347),(395,361),(352,378),(375,375),(385,393),(393,400),(264,400),(415,299),(433,287),(466,297),(473,300),(436,333),(450,330),(507,288),(522,285),(530,316),(535,265),(540,245),(552,262),(403,122),(412,118),(428,122),(443,113),(412,147),(433,140),(450,151),(475,131),(485,132),(517,116),(527,159),(495,68),(520,78),(540,64),(497,75),(570,12),(580,35),(576,60),(617,49),(645,57),(663,50),(680,70),(692,40),(708,50),(714,68),(716,92),(658,85),(743,44),(755,28),(722,20),(775,60),(788,50),(806,58),(820,78),(808,100),(805,118),(802,132),(746,135),(853,25),(870,38),(868,50),(884,20),(795,8),(809,25),(635,8),(660,18),(613,108),(635,103),(644,118),(667,120),(659,125),(580,118),(590,125),(584,145),(562,147),(556,160),(642,149),(646,176),(617,190),(604,173),(590,178),(574,182),(558,187),(535,188),(518,193),(603,211),(621,215),(640,222),(659,205),(637,249),(606,241),(683,240),(716,250),(731,254),(746,254),(701,276),(713,272),(442,196),(453,195),(431,210),(463,208),(475,228),(483,229),(491,250),(486,257),(70,460),(30,484),(25,487),(68,500),(66,512),(102,492),(23,515),(29,522),(93,525),(85,542),(12,554),(38,564),(74,560),(66,572),(57,595),(112,583),(120,585),(115,615),(418,502)]
blue_g2 = [(821,748),(827,755),(888,753),(899,748),(847,777),(838,789),(875,796),(768,804),(760,815),(778,822),(805,828),(733,843),(752,833),(886,849),(868,861),(871,875),(815,861),(793,855),(783,865),(763,855),(768,870),(745,870),(775,880),(793,892),(738,885),(728,898),(704,902),(900,877),(919,878),(885,890),(845,905),(856,910),(868,910),(891,916),(921,916),(770,913),(776,925),(760,932),(912,933),(637,932),(651,915),(703,925),(707,938),(550,951),(585,963),(567,966),(552,977),(618,973),(645,970),(713,962),(768,955),(773,965),(812,975),(866,969),(844,977),(889,977),(900,985),(918,985),(763,983),(790,985),(808,985),(731,984),(650,985),(652,1000),(700,1002),(713,995),(905,1000),(912,1003),(948,1003),(967,998),(517,1002),(503,1008),(530,1010),(553,1000),(573,1013),(543,1018),(537,1032),(533,1050),(655,1012),(662,1025),(678,1018),(771,998),(802,1025),(762,1021),(776,1022),(907,1020),(741,1032),(753,1042),(686,1042),(697,1045),(837,1039),(856,1044),(867,1046),(887,1048),(902,1047),(912,1033),(952,1041),(783,1050),(792,1043),(806,1060),(875,1060),(930,1053),(946,1060),(936,1072),(910,1069),(746,1064),(725,1073),(727,1085),(736,1095),(760,1090),(804,1090),(654,1099),(673,1100),(621,1125),(905,1128),(737,1135),(760,1125),(769,1135),(796,1120),(811,1130),(831,1120),(850,1125),(605,1148),(666,1145),(686,1140),(749,1155),(765,1146),(788,1146),(796,1148),(830,1150),(842,1140),(620,1160),(675,1165),(712,1176),(634,1175),(662,1183),(643,1190),(648,1197),(675,1200),(685,1202),(709,1202),(724,1205),(741,1198),(685,1222),(733,1218),(818,1197),(819,1212),(621,1230),(647,1226),(705,1232),(724,1233),(748,1240),(765,1218),(765,1232),(784,1226),(845,1310),(836,1342),(725,1358),(739,1370),(746,1371),(772,1358),(815,1358),(820,1373),(845,1372),(911,1364),(896,1375),(884,1389),(848,1390),(787,1392),(775,1403),(806,1397),(796,1413),(758,1417),(832,1410),(806,1423),(851,1421),(828,1430),(905,1420),(666,1423),(681,1424),(688,1450),(749,1437),(776,1449),(793,1445),(714,1450),(694,1455),(727,1465),(741,1470),(762,1471),(854,1450),(868,1453),(889,1464),(700,1478),(721,1488),(804,1472),(800,1487),(846,1477),(869,1482),(829,1490),(775,1508),(796,1507),(773,1528),(802,1527),(817,1540),(851,1525),(734,1553),(762,1549),(782,1557),(813,1558)]
blue_extra = [(1620,1660),(1650,1652),(1668,1668),(1640,1692),(1610,1702),(1660,1712),(1627,1728),(1675,1725),(1605,1735)]
orange_extra = [(1642,551),(1657,555),(1673,561),(1689,571),(1704,592),(1683,596),(1663,592),(1648,581),(1632,612),(1612,622),(1591,643),(1571,653),(1601,657),(1622,653),(1642,669),(1591,669),(1652,683),(1650,570),(1672,580),(1702,578),(1612,636),(1578,640),(1630,1050),(1640,1048),(1650,1046),(1660,1048),(1650,1030),(1633,1005),(1645,1068),(1655,1090),(1655,1115),(1702,1710)]

orange_h = [(337,88),(365,88),(340,98),(406,101),(426,90),(436,93),(326,120),(345,126),(395,122),(466,122),(470,135),(450,135),(420,140),(431,148),(279,133),(257,143),(232,158),(345,153),(348,166),(401,158),(478,158),(491,156),(507,168),(416,182),(523,191),(533,203),(491,202),(237,216),(265,220),(59,236),(318,223),(325,218),(335,228),(404,229),(232,242),(226,258),(206,261),(195,265),(266,262),(316,255),(362,258),(475,265),(484,250),(493,246),(168,288),(129,294),(150,304),(158,309),(438,288),(444,310),(444,330),(597,280),(620,283),(287,327),(370,324),(420,318),(237,329),(220,336),(206,346),(232,336),(70,342),(407,342),(456,346),(460,352),(528,334),(520,339),(563,320),(570,338),(575,353),(548,366),(555,358),(665,315),(672,330),(700,328),(632,345),(645,345),(608,362),(625,360),(640,374),(793,348),(838,340),(846,340),(327,362),(335,358),(350,365),(204,380),(164,382),(155,390),(112,402),(124,396),(277,380),(350,386),(380,388),(328,395),(248,403),(439,403),(433,414),(505,391),(481,399),(463,411),(717,393),(706,405),(403,414),(244,430),(369,436),(392,430),(383,433),(492,426),(515,432),(714,421),(750,418),(769,428),(779,420),(194,447),(274,448),(290,447),(414,453),(445,464),(375,466),(220,460),(216,474),(931,428),(942,440),(948,456),(963,465),(1075,412),(1061,433),(557,472),(306,477),(343,475),(580,485),(412,484),(730,478),(180,496),(140,503),(163,507),(993,481),(1013,491),(997,498),(1045,483),(1047,497),(1076,503),(1068,510),(1114,508),(1151,498),(1160,508),(1170,510),(1221,468),(1235,478),(1245,485),(239,513),(294,518),(846,508),(991,514),(1008,515),(233,534),(262,543),(268,553),(292,549),(588,524),(593,534),(662,533),(674,546),(690,540),(695,535),(716,537),(936,528),(1192,523),(1231,530),(1275,531),(1204,548),(1240,548),(882,547),(890,567),(925,557),(976,560),(357,555),(368,570),(380,563),(397,562),(421,568),(430,571),(501,571),(510,583),(520,573),(537,568),(552,563),(570,553),(588,578),(649,573),(964,582),(827,586),(1240,560),(1229,580),(1236,589),(1208,594),(881,596),(910,596),(561,617),(943,608),(913,626),(940,627),(955,628),(1078,619),(1102,617),(1161,616),(1227,625),(1274,616),(559,642),(580,657),(600,658),(602,668),(606,676),(842,652),(1163,634),(1241,632),(1274,637),(941,645),(882,658),(1176,652),(1230,658),(1307,656),(231,668),(228,683),(226,700),(683,655),(679,675),(621,688),(832,675),(853,677),(920,667),(1205,677),(1235,686),(1243,687),(1274,674),(1281,663),(1350,672),(1464,666),(660,700),(717,701),(660,716),(780,724),(849,711),(865,708),(845,727),(862,730),(893,724),(941,711),(975,705),(1065,703),(1141,711),(1210,710),(1241,720),(1298,718),(634,738),(653,738),(1177,743),(1231,747),(268,758),(321,760),(952,755),(689,760),(706,755),(675,762),(722,765),(655,770),(668,775),(312,773),(1000,765),(1361,768),(124,786),(240,785),(280,785),(291,795),(826,773),(802,782),(952,776),(1084,782),(1276,790),(1293,797),(307,803),(254,804),(324,807),(348,805),(338,820),(243,812),(494,811),(495,825),(721,798),(985,803),(996,805),(1041,813),(1153,811),(1190,812),(188,826),(238,828),(265,832),(290,836),(317,831),(840,825),(827,836),(937,827),(968,817),(958,829),(976,837),(1029,841),(1071,825),(1078,837),(1096,841),(195,850),(246,842),(252,852),(273,846),(485,862),(478,882),(776,869),(848,855),(846,870),(863,874),(945,873),(1160,853),(1190,858),(1197,870),(1229,866),(1240,868),(209,882),(222,884),(316,889),(358,882),(348,893),(1272,884),(1354,888),(346,911),(270,908),(367,920),(419,904),(438,897),(490,923),(1023,894),(1035,894),(1101,891),(1254,900),(1259,910),(1283,902),(1292,901),(864,910),(875,922),(1106,922),(1168,908),(1152,928),(1174,923),(242,932),(238,945),(196,950),(208,947),(348,933),(941,929),(1244,932),(1195,945),(1318,945),(806,941),(252,960),(274,968),(344,965),(361,965),(373,980),(391,980),(1090,950),(1083,959),(1165,958),(964,964),(1247,964),(1257,975),(1305,970),(1172,975),(1165,985),(842,986),(234,996),(316,1003),(368,1006),(1148,994),(1133,1005),(1193,987),(1229,989),(1269,990),(1393,990),(997,998),(944,1016),(1007,1021),(1025,1020),(1034,1030),(1063,1019),(1072,1018),(1103,1011),(1199,1005),(1199,1022),(1301,1012),(1165,1035),(1204,1037),(1181,1052),(1039,1064),(1167,1067),(1231,1068),(1244,1072),(1257,1063),(1273,1067),(1485,510),(1495,525)]

orange_i = [(928,10),(953,25),(873,85),(1060,82),(1073,97),(1096,95),(1133,93),(1176,90),(1226,95),(1094,105),(622,162),(653,158),(597,175),(910,167),(347,190),(346,212),(864,178),(850,187),(855,200),(1165,132),(1155,145),(1195,130),(1207,145),(1218,160),(1243,160),(1245,195),(505,218),(522,213),(527,226),(571,220),(590,213),(605,211),(585,226),(882,219),(1245,221),(1345,201),(1358,205),(1398,197),(1392,207),(431,246),(463,233),(458,245),(508,253),(530,248),(577,250),(610,245),(625,232),(836,240),(1036,226),(1105,225),(1093,240),(979,248),(1253,248),(1368,234),(1430,235),(1495,238),(506,275),(545,265),(538,280),(605,268),(630,274),(660,270),(714,262),(911,263),(920,263),(964,263),(483,280),(489,295),(654,295),(828,295),(970,285),(1185,288),(1375,283),(1437,277),(1428,288),(176,307),(185,315),(336,296),(326,312),(368,313),(381,320),(365,336),(455,305),(460,322),(483,322),(497,321),(703,303),(706,316),(893,316),(1010,308),(1162,306),(288,335),(262,357),(272,350),(423,344),(440,350),(450,355),(482,340),(524,350),(530,356),(954,340),(961,333),(1017,345),(1090,333),(1097,340),(1127,344),(1115,353),(1311,334),(470,360),(415,380),(463,384),(486,376),(516,380),(537,376),(748,374),(790,376),(800,363),(776,388),(838,370),(865,370),(873,380),(885,352),(1008,364),(1022,361),(979,360),(1082,381),(1274,356),(1280,373),(1417,353),(1431,365),(1456,370),(1322,378),(1327,388),(152,403),(204,419),(300,410),(390,398),(472,404),(517,405),(582,413),(627,396),(650,403),(657,420),(602,418),(616,417),(752,404),(806,405),(842,398),(855,405),(878,415),(1028,396),(1124,403),(1155,396),(1175,394),(1436,385),(1464,400),(1330,404),(1308,418),(1077,418),(1166,410),(370,413),(366,432),(291,436),(302,436),(419,445),(434,443),(467,439),(710,437),(874,425),(942,414),(967,428),(1002,434),(1086,432),(1121,437),(1134,442),(1158,445),(1255,423),(1275,430),(1345,436),(441,462),(245,465),(521,453),(718,450),(702,463),(708,478),(817,450),(896,458),(896,445),(924,441),(1196,465),(1145,463),(1242,458),(1260,456),(1282,457),(521,475),(262,483),(373,485),(454,483),(1108,470),(1098,478),(1085,485),(1263,482),(1285,491),(1342,486),(258,495),(269,506),(453,501),(652,505),(771,500),(780,499),(839,495),(991,505),(1208,510),(101,506),(70,522),(80,527),(124,521),(143,521),(155,527),(128,532),(427,520),(645,513),(660,530),(728,530),(868,532),(1272,516),(1346,514),(397,536),(310,533),(318,547),(499,540),(105,552),(323,556),(476,558),(507,556),(671,552),(687,560),(702,553),(945,555),(1124,560),(1199,553),(1349,552),(1277,544),(90,568),(128,564),(333,573),(420,564),(436,570),(520,568),(657,575),(791,565),(937,578),(1070,578),(1179,569),(1316,568),(1270,570),(1365,578),(381,583),(436,580),(529,580),(508,583),(1029,588),(1131,575),(1141,580),(1124,587),(1245,578),(1279,580),(102,592),(485,594),(848,600),(880,600),(911,587),(1037,603),(1065,600),(1102,605),(1379,606),(412,607),(425,607),(437,605),(617,605),(624,600),(691,608),(1055,610),(1245,606),(75,620),(85,618),(276,616),(275,630),(465,620),(477,618),(495,626),(616,618),(1093,630),(1133,625),(780,631),(395,628),(408,630),(394,648),(76,644),(934,635),(936,645),(1194,636),(1270,636),(1232,644),(1244,648),(418,640),(608,645),(722,650),(736,648),(745,645),(684,647),(645,655),(624,657),(1129,650),(1352,650),(1441,654),(1222,657),(183,660),(403,663),(420,665),(822,656),(867,658),(1168,673),(1182,661),(1272,672),(1257,665),(610,672),(190,680),(612,690),(203,686),(201,698),(844,683),(868,679),(918,686),(1212,685),(1248,684),(1421,671),(1438,681),(1456,687),(664,702),(678,698),(688,700),(840,700),(853,698),(866,702),(1124,702),(1131,697),(1212,706),(1431,703),(1403,709),(169,711),(309,708),(318,711),(709,706),(895,714),(1172,708),(1197,711),(1233,706),(1163,723),(1258,720),(1269,721),(337,727),(741,720),(737,733),(138,745),(813,732),(832,733),(876,736),(892,737),(919,734),(933,730),(947,727),(1073,731),(1216,729),(632,739),(700,735),(748,738),(1050,740),(1033,750),(578,753),(669,747),(758,750),(821,751),(846,760),(840,767),(579,785),(590,775),(645,765),(541,780),(664,776),(809,775),(1208,765),(1258,769),(1368,778),(1367,795),(729,783),(708,790),(691,804),(736,793),(793,805),(1288,787),(1283,805),(583,810),(614,810),(629,812),(423,820),(428,830),(716,823),(736,830),(1128,815),(1248,824),(1360,828),(1347,841),(403,838)]

orange_j = [(458,5),(395,22),(402,40),(404,60),(410,68),(373,60),(440,25),(441,55),(496,18),(520,24),(538,18),(553,17),(584,15),(597,27),(578,44),(584,54),(595,68),(612,55),(628,60),(617,10),(696,15),(725,20),(730,45),(730,65),(767,51),(851,54),(943,40),(1086,16),(1138,14),(1216,32),(1232,25),(1255,32),(1346,7),(1402,37),(1396,48),(1352,55),(1368,50),(423,72),(682,84),(1205,78),(1315,80),(1389,86),(1300,95),(367,90),(398,88),(253,108),(284,111),(332,100),(460,100),(1176,111),(1238,110),(1282,117),(1115,123),(1127,118),(406,108),(400,135),(417,131),(401,150),(480,137),(1072,127),(1064,137),(1180,135),(1238,137),(750,142),(646,149),(693,142),(686,158),(1333,130),(1333,150),(1339,165),(1365,143),(1297,149),(463,177),(530,184),(676,178),(662,188),(644,198),(731,188),(827,187),(827,200),(1415,179),(551,209),(593,215),(644,223),(705,208),(781,206),(918,213),(940,199),(985,202),(998,202),(1030,208),(1033,218),(1133,199),(1153,199),(1165,198),(1212,200),(1217,218),(1316,196),(1328,197),(1310,210),(1373,198),(1384,203),(1490,217),(236,226),(292,228),(342,237),(603,238),(627,237),(726,238),(750,235),(764,230),(266,252),(295,253),(309,264),(290,268),(268,274),(556,253),(528,268),(568,270),(665,254),(714,251),(745,268),(794,263),(1067,249),(1214,248),(1214,258),(1385,255),(1424,247),(208,281),(677,284),(697,285),(697,295),(910,294),(954,286),(240,318),(259,335),(283,323),(296,319),(307,334),(342,308),(356,305),(554,312),(604,307),(585,321),(564,337),(626,317),(638,318),(661,320),(667,327),(725,330),(901,325),(955,327),(965,342),(1004,340),(1149,317),(1169,311),(1185,314),(1287,333),(1300,329),(1318,326),(1333,319),(1394,301),(1403,325),(1451,306),(500,317),(509,334),(493,340),(913,363),(923,355),(1049,360),(40,356),(113,365),(500,367),(520,362),(544,380),(587,373),(602,377),(698,382),(822,384),(843,379),(943,365),(947,392),(131,395),(136,403),(357,380),(378,381),(687,394),(1076,395),(1126,401),(472,397),(477,407),(538,405),(563,404),(872,429),(884,442),(918,417),(1041,408),(1046,422),(1215,414),(1228,421),(1275,406),(1286,411),(1296,437),(1036,440),(445,423),(455,437),(476,440),(522,427),(532,435),(557,428),(575,435),(588,442),(695,442),(935,434),(947,431),(1470,433),(1415,448),(252,443),(262,450),(344,439),(330,448),(320,457),(350,460),(398,458),(431,459),(525,455),(503,457),(591,455),(947,447),(1245,452),(1214,454),(1250,448),(268,465),(208,471),(287,471),(300,474),(248,478),(443,471),(469,476),(497,469),(542,467),(645,473),(660,464),(676,459),(693,461),(732,469),(896,463),(925,470),(953,463),(970,467),(1011,465),(1052,471),(1228,470),(1269,476),(1314,470),(1442,474),(1369,484),(290,493),(270,497),(243,490),(487,492),(1115,479),(1045,484),(1167,484),(1054,499),(1425,496),(1444,492),(1328,500),(1213,497),(334,505),(221,511),(238,513),(197,515),(169,514),(245,527),(288,512),(317,519),(177,527),(656,510),(688,514),(703,515),(735,523),(753,507),(758,515),(808,516),(820,516),(840,516),(908,509),(954,492),(983,523),(1164,522),(1280,520),(1294,528),(1328,522),(1313,533),(153,537),(235,543),(603,532),(619,539),(671,530),(1233,540),(1247,539),(1262,543),(1386,512),(1385,527),(1503,529),(1432,541),(207,550),(287,552),(383,555),(531,560),(704,551),(1105,551),(1116,545),(1135,560),(1004,555),(1350,552),(1301,556),(183,560),(227,574),(295,566),(135,570),(532,578),(739,566),(765,570),(1072,568),(1077,578),(452,578),(450,586),(407,582),(1023,582),(920,582),(187,588),(134,600),(184,604),(355,595),(361,595),(838,588),(765,593),(1145,592),(1158,590),(1171,587),(1255,592),(1272,598),(1076,603),(792,612),(966,611),(608,618),(181,623),(237,625),(240,632),(125,625),(275,629),(303,624),(392,620),(405,626),(360,630),(388,635),(1327,613),(1352,613),(1366,628),(1373,634),(1189,626),(134,652),(140,660),(204,654),(359,650),(514,655),(711,652),(615,657),(1022,645),(1105,645),(1150,637),(1140,655),(1184,648),(1280,648),(1270,655),(1320,649),(78,674),(268,667),(392,660),(357,675),(363,680),(422,681),(609,665),(901,668),(885,673),(727,671),(741,665),(770,681),(786,677),(1120,664),(1149,682),(1313,667),(985,675),(1257,680),(595,689),(694,690),(750,695),(1091,686),(1062,697),(183,697),(190,705),(22,719),(32,720),(92,713),(125,710),(147,710),(121,724),(229,720),(718,713),(748,717),(862,711),(1225,716),(1046,724),(991,712),(985,723),(397,730),(262,728),(268,743),(282,741),(522,735),(767,728),(205,743),(41,748),(694,744),(925,738),(840,745),(871,748),(990,740),(1018,743),(1094,750),(1160,754),(526,759),(775,754),(802,750),(809,753),(1145,768),(1035,758),(190,765),(127,755),(115,768),(85,770),(96,781),(822,767),(873,768),(302,779),(340,787),(185,785),(316,792),(722,785),(789,768),(797,793),(883,778),(878,790),(1037,780),(37,792),(327,810),(232,806),(238,811),(471,798),(574,805),(585,805),(1147,790),(836,815),(1005,810),(1020,809),(1034,805),(1043,815),(927,810),(926,826),(852,826),(789,823),(952,824),(187,826),(192,841),(268,838),(315,835),(408,841),(430,843),(498,846),(598,837),(576,843),(353,849),(708,838),(739,838),(815,838),(824,853),(881,855),(286,853),(262,858),(546,857),(578,860),(672,857),(703,860),(739,852),(907,861),(226,871),(325,873),(448,873),(467,874),(781,870),(843,876),(154,880),(185,880),(196,880),(172,887),(273,881),(355,885),(372,886),(378,893),(434,889),(750,880),(256,895),(308,895),(325,893),(404,898),(750,895),(702,900),(714,896),(790,895),(852,902),(884,902),(598,906),(1026,910),(1018,920),(826,921),(884,924),(452,924),(437,930),(426,939),(172,929),(619,932),(167,958),(401,945),(355,946),(892,947),(901,960),(606,953),(760,957),(999,953),(1216,980),(1252,985),(1262,995),(1268,968),(1289,968),(281,962),(853,960),(929,964),(315,973),(326,978),(589,973),(600,963),(651,968),(673,975),(527,973),(500,978),(865,978),(171,991),(248,986),(257,992),(463,987),(488,990),(667,989),(712,990),(795,986),(985,999),(589,1000),(245,1008),(301,1012),(457,1000),(482,1005),(732,1006),(661,1008),(428,1015),(455,1020),(603,1019),(620,1014),(655,1021),(700,1016),(756,1024),(462,1034),(498,1036),(635,1036),(705,1030),(1000,1032),(702,1050),(716,1047),(415,1061),(462,1064),(476,1072),(631,1063),(598,1069),(725,1072),(812,1062),(912,1060),(930,1070),(704,1077),(352,1100),(390,1092),(404,1090),(798,1097),(827,1099),(843,1103),(915,1100),(658,1155),(893,1147)]

orange_k = [(930,105),(891,115),(852,129),(850,181),(1034,160),(1052,173),(1107,157),(1095,172),(1125,174),(1142,180),(1162,165),(1125,207),(1150,190),(1156,203),(1198,205),(1210,214),(926,197),(709,224),(952,225),(940,248),(1035,215),(1059,218),(835,250),(798,256),(805,277),(831,276),(913,268),(967,263),(1015,265),(1038,245),(1052,258),(672,290),(675,306),(769,287),(879,284),(890,293),(888,306),(917,295),(934,297),(1028,294),(1047,285),(1028,313),(1117,288),(1104,308),(1129,310),(813,317),(838,321),(826,340),(729,325),(708,332),(688,340),(678,347),(744,341),(760,345),(769,348),(1052,324),(1144,332),(1007,339),(1001,350),(1040,344),(1056,355),(1239,328),(1247,346),(618,367),(601,384),(637,388),(656,378),(867,350),(877,358),(913,376),(926,377),(849,385),(884,391),(1191,363),(1137,389),(1352,404),(640,405),(644,420),(815,424),(858,414),(854,435),(903,431),(921,436),(943,443),(999,431),(1174,420),(1224,407),(1232,415),(1118,440),(1131,438),(1152,435),(1228,435),(1244,443),(633,455),(636,462),(605,475),(678,457),(671,472),(687,468),(857,472),(877,472),(1167,463),(1216,459),(1238,463),(1270,452),(1269,468),(628,488),(638,494),(872,486),(888,500),(1095,482),(1215,485),(1145,492),(1133,507),(651,517),(911,528),(942,518),(930,522),(1305,508),(1124,539),(1161,546),(1298,538),(914,546),(935,543),(605,552),(673,540),(704,542),(962,558),(964,566),(1317,560),(1105,575),(1049,585),(1075,585),(1116,593),(1122,604),(1349,581),(1373,583),(906,588),(1084,613),(1031,623),(1134,637),(1142,645),(1316,644),(1049,663),(1120,668),(1128,665),(1165,669),(1200,673),(1215,668),(1259,657),(1240,675),(1019,680),(1005,687),(977,698),(1065,692),(1227,697),(1241,697),(1280,689),(1307,684),(1384,694),(1276,712),(1278,725),(1332,717),(1365,731),(1492,689),(1523,681),(1538,703),(1521,707),(1490,726),(1495,738),(1558,736),(1299,743),(1305,740),(1331,755),(1350,752),(1388,748),(1396,766),(1528,757),(1522,762),(1250,757),(1218,776),(1319,781),(792,795),(799,801),(1176,803),(1298,800),(1315,805),(1382,821),(1404,813),(1438,807),(1510,840),(1548,843),(1238,836),(1268,840),(1278,848),(1301,835),(1320,850),(1352,842),(1338,858),(1568,840),(1386,857),(1403,866),(1423,862),(1364,872),(1308,860),(946,857),(932,860),(920,880),(989,851),(1017,855),(1040,853),(1064,867),(1257,880),(1306,885),(900,902),(899,921),(930,914),(946,927),(1085,909),(1079,930),(1283,904),(1297,907),(1316,911),(1339,908),(1375,905),(1391,900),(1409,910),(1425,914),(1434,928),(1483,910),(1474,927),(1007,943),(1033,941),(1063,945),(1130,938),(1143,950),(1198,939),(1242,946),(1300,945),(1375,938),(1366,955),(1346,957),(1510,953),(927,945),(965,957),(982,958),(945,971),(1047,975),(1120,960),(1122,975),(1147,980),(975,985),(1116,998),(1218,990),(1167,998),(1150,1008),(1073,1003),(1087,1024),(1176,1033),(1206,1035),(1274,1029),(1403,1043),(1409,1053),(1168,1062),(1165,1078),(1298,1070),(1448,1094)]

orange_l = [(1016,42),(1051,52),(1067,52),(1105,77),(1145,88),(1159,87),(1040,75),(1020,93),(1030,85),(1068,86),(1082,88),(1095,90),(1131,108),(1095,107),(1047,110),(1082,117),(1007,114),(968,118),(947,111),(988,124),(1027,117),(1018,130),(1106,127),(1124,132),(1096,140),(1115,145),(1092,153),(1152,157),(994,142),(1003,143),(986,157),(1010,163),(1040,155),(1050,161),(982,173),(1016,175),(1037,175),(881,161),(870,172),(864,180),(853,181),(842,183),(938,180),(917,172),(905,180),(923,183),(903,192),(886,200),(900,205),(904,222),(1007,210),(998,230),(1083,198),(1092,204),(1126,193),(1059,228),(1095,233),(1216,192),(1228,195),(1184,216),(1198,216),(1219,237),(1267,200),(1281,180),(1292,185),(1273,235),(1286,212),(1290,225),(1306,228),(1323,233),(1270,248),(1296,243),(1318,251),(1335,254),(1240,258),(1248,268),(1264,270),(1279,260),(1090,258),(1098,274),(1165,281),(1032,268),(1022,285),(974,285),(960,293),(952,300),(1000,302),(997,317),(1002,327),(1103,313),(1126,322),(1070,326),(1080,337),(1087,347),(945,341),(1325,277),(1324,302),(1332,312),(1344,320),(1345,340),(1365,258),(1376,257),(1413,253),(1415,263),(1442,252),(1483,258),(1480,272),(1491,236),(1364,283),(1380,288),(1392,288),(1412,286),(1430,280),(1443,292),(1455,300),(1416,310),(1424,318),(1396,317),(1386,322),(1387,342),(1438,328),(1514,320),(1512,340),(1521,352),(1269,312),(1270,326),(1163,336),(1172,338),(1183,340),(1320,343),(1278,348),(1396,360),(1454,350),(1467,352),(1474,338),(1484,360),(1486,372),(1456,372),(1316,353),(1096,353),(1126,355),(1118,365),(1100,378),(1151,370),(1238,364),(1248,370),(1262,375),(1280,367),(1288,367),(1506,372),(1383,385),(1323,388),(1252,385),(1238,392),(1277,392),(1290,390),(1302,396),(1438,387),(1450,390),(1470,392),(1502,393),(1081,383),(1067,391),(1039,398),(1098,400),(1100,412),(1141,401),(1162,403),(1159,417),(1348,410),(1360,402),(1317,408),(1436,408),(1417,413),(1504,405),(1524,410),(932,395),(1032,420),(1055,433),(1016,444),(1043,448),(1069,461),(1111,428),(1106,442),(1115,440),(1166,440),(1187,418),(1198,430),(1188,435),(1222,428),(1285,441),(1333,442),(1361,425),(1420,430),(1448,425),(1440,435),(1509,430),(1521,445),(1419,453),(1459,454),(1488,458),(1473,463),(1244,458),(1117,463),(1137,458),(1152,473),(1325,458),(1290,470),(1376,459),(1501,472),(1230,472),(1189,478),(1246,478),(1277,483),(1141,484),(1160,490),(1005,473),(1018,478),(936,488),(954,486),(1470,478),(1488,465),(1260,495),(1234,497),(1212,504),(1105,496),(1251,518),(1457,495),(1462,500),(975,503),(970,512),(1000,509),(1104,517),(969,535),(1304,515),(1394,527),(1451,513),(1133,536),(1062,542),(1087,540),(1104,526),(1277,551),(1305,540),(1300,554),(1190,563),(1210,552),(1177,573),(1180,589),(1228,571),(1317,565),(1288,570),(1289,584),(1113,578),(1126,581),(1134,581),(1098,598),(1324,592),(1316,601),(1044,608),(1030,627),(1070,603),(1070,617),(1203,602),(1212,613),(1207,627),(1244,603),(1233,620),(1188,627),(1021,648),(1028,649),(1080,650),(1091,647),(1128,643),(1133,647),(1054,670),(1067,678),(1079,665),(1102,667),(1103,683),(1080,692),(1168,652),(1164,670),(1200,655),(1229,652),(1216,665),(1186,672),(1172,670),(1200,672),(1140,692),(1139,703),(1083,715),(1092,716),(1170,708),(1170,716),(1032,743),(1040,755),(978,750),(1072,766),(1089,767),(1102,778),(1000,767),(1037,780),(1052,790),(955,784),(985,788),(1006,790),(1085,800),(1120,793),(1064,808),(1022,798),(1015,808),(1003,805),(1012,816),(987,815),(970,825),(980,825),(1039,832),(995,840),(1003,838),(995,853),(1068,850),(1060,860),(1033,866),(1173,782),(1181,783),(1196,784)]
orange_l2 = [(600,476),(604,495),(669,497),(522,483),(535,495),(552,488),(566,495),(450,515),(620,520),(496,536),(640,540),(650,554),(655,573),(669,577),(690,583),(700,581),(726,551),(745,563),(761,558),(752,538),(757,527),(788,530),(785,553),(792,560),(824,538),(865,547),(532,567),(541,592),(346,586),(364,594),(376,605),(389,582),(421,602),(277,600),(735,608),(759,600),(773,605),(775,620),(758,622),(714,625),(487,618),(482,631),(541,629),(571,640),(576,650),(599,650),(612,650),(698,651),(802,652),(832,647),(840,662),(818,672),(359,636),(403,635),(380,651),(395,652),(423,650),(431,650),(466,650),(473,657),(480,665),(493,664),(510,664),(519,662),(534,662),(561,662),(657,670),(657,680),(299,645),(265,665),(316,664),(363,667),(370,677),(383,667),(399,668),(563,686),(486,688),(473,700),(465,718),(478,718),(416,700),(419,708),(355,707),(377,714),(222,702),(213,722),(281,718),(271,722),(663,705),(664,716),(680,700),(690,705),(696,690),(721,695),(737,695),(760,685),(758,712),(765,711),(780,699),(787,714),(654,726),(550,736),(183,730),(186,741),(265,745),(155,743),(348,725),(337,730),(396,732),(389,738),(356,738),(369,741),(813,737),(844,751),(316,749),(164,766),(344,766),(413,778),(433,764),(442,771),(515,770),(562,781),(583,777),(607,770),(617,768),(631,768),(650,774),(694,772),(715,765),(730,760),(739,750),(753,750),(762,770),(794,764),(127,784),(200,784),(207,785),(261,782),(306,777),(313,785),(325,790),(692,790),(702,785),(806,790),(568,795),(574,800),(594,810),(622,800),(429,800),(458,795),(506,796),(369,797),(143,803),(154,815),(260,808),(303,802),(522,805),(543,811),(810,802),(820,810),(848,807),(863,804),(903,789),(163,822),(185,822),(212,822),(225,822),(303,815),(261,823),(366,820),(436,821),(463,808),(588,822),(825,815),(814,827),(908,831),(83,836),(137,841),(172,835),(268,832),(287,832),(298,827),(378,833),(399,835),(417,832),(584,830),(624,835),(635,845),(652,850),(661,830),(677,842),(744,834),(160,846),(154,858),(376,857),(465,852),(472,855),(588,845),(845,850),(172,857),(652,832),(258,874),(275,872),(337,869),(539,869),(593,868),(340,880),(351,884),(375,882),(385,890),(558,880),(569,881),(612,880),(628,872),(647,875),(658,880),(134,878),(119,891),(105,900),(197,894),(184,900),(450,886),(727,885),(736,877),(759,875),(765,887),(714,895),(734,898),(34,899),(88,906),(169,906),(162,917),(372,895),(384,897),(379,913),(420,904),(432,910),(599,908),(613,897),(620,895),(62,915),(115,914),(625,916),(90,930),(117,937),(303,926),(319,929),(419,932),(595,930),(633,936),(63,932),(396,937),(95,947),(57,957),(47,960),(98,960),(189,955),(206,956),(223,955),(260,945),(288,945),(445,952),(453,950),(385,954),(73,978),(134,975),(141,988),(184,978),(234,970),(263,977),(284,967),(320,970),(345,969),(385,975),(412,973),(220,978),(277,983),(563,979),(614,968),(17,997),(82,1001),(160,1001),(409,990),(575,987),(586,987),(661,986),(678,995),(781,977),(790,992),(782,1008),(810,998),(724,1003),(800,1002),(116,1013),(253,1010),(264,1006),(285,1003),(296,1000),(309,1007),(331,1005),(342,1005),(339,1016),(408,997),(518,998),(511,1013),(679,1016),(750,1009),(822,1017),(51,1022),(158,1027),(178,1027),(198,1015),(188,1027),(198,1033),(268,1018),(284,1025),(270,1032),(391,1025),(392,1035),(508,1028),(766,1027),(856,1030),(50,1045),(71,1046),(87,1045),(47,1055),(133,1041),(240,1042),(234,1053),(323,1052),(502,1039),(568,1048),(648,1027),(648,1043),(617,1053),(630,1055),(650,1053),(688,1039),(703,1038),(733,1042),(127,1057),(175,1060),(264,1066),(312,1063),(361,1066),(376,1053),(518,1070),(648,1064),(760,1053),(810,1050),(773,1065),(810,1070),(818,1072),(157,1070),(207,1075),(226,1075),(235,1068),(288,1080),(347,1080),(540,1079),(650,1078),(771,1080),(833,1072),(830,1083),(218,1085),(180,1092),(306,1092),(649,1090),(151,1097),(140,1110),(215,1115),(282,1108),(270,1116),(386,1104),(437,1115),(443,1117),(482,1122),(585,1113),(618,1102),(627,1124),(673,1121),(720,1115),(733,1112),(745,1107),(760,1100),(324,1117),(316,1131),(333,1140),(453,1128),(460,1137),(629,1133),(277,1148),(384,1135),(396,1145),(657,1145),(211,1157),(225,1155),(236,1155),(234,1160),(281,1155),(380,1152),(378,1167),(463,1168),(478,1169),(484,1179),(628,1162),(647,1166),(656,1167),(669,1174),(225,1183),(285,1180),(295,1192),(304,1190),(313,1184),(320,1192),(554,1188),(608,1191),(626,1184),(636,1182),(669,1194),(360,1195),(407,1193),(411,1198),(498,1193),(487,1202),(135,1210),(215,1205),(273,1198),(264,1206),(284,1213),(345,1208),(498,1212),(492,1222),(630,1206),(536,1215),(431,1218),(379,1225),(342,1233),(354,1231),(297,1240),(308,1248),(333,1240),(376,1241),(398,1245),(408,1248),(424,1240),(445,1238),(459,1235),(471,1244),(492,1232),(485,1254),(589,1240),(584,1252),(422,1258),(354,1262),(330,1262),(267,1268),(282,1263),(301,1273),(342,1272),(404,1267),(396,1280),(518,1277),(551,1280),(317,1288),(347,1281),(404,1294),(352,1298),(339,1308),(395,1314),(330,1325),(375,1339),(385,1348),(395,1348),(391,1355)]

# crop and the lists read from it
BLUE_READS = [
    (BOX_A, blue_a), (BOX_A, blue_a2), (BOX_B, blue_b), (BOX_B, blue_b2),
    (BOX_C, blue_c), (BOX_C, blue_c2), (BOX_D, blue_d), (BOX_D, blue_d2),
    (BOX_D, blue_d3), (BOX_E, blue_e), (BOX_E, blue_e2), (BOX_F, blue_f),
    (BOX_G, blue_g), (BOX_G, blue_g2), (BOX_M, blue_extra),
]
ORANGE_READS = [
    (BOX_A, orange_a), (BOX_C, orange_c), (BOX_H, orange_h), (BOX_I, orange_i),
    (BOX_J, orange_j), (BOX_K, orange_k), (BOX_L, orange_l), (BOX_L, orange_l2),
    (BOX_M, orange_extra),
]


def to_image(reads):
    xs, ys = [], []
    for box, pts in reads:
        x0, y0, w, h = box
        arr = np.array(pts, dtype=float)
        xs.append(x0 + arr[:, 0] * w / GRID)
        ys.append(y0 + arr[:, 1] * h / GRID)
    return np.concatenate(xs), np.concatenate(ys)


fig = plt.figure(figsize=(32, 24), dpi=100)
ax = fig.add_axes([0, 0, 1, 1])

x, y = to_image(BLUE_READS)
ax.scatter(x, y, s=62, c=BLUE, linewidths=0)
x, y = to_image(ORANGE_READS)
ax.scatter(x, y, s=62, c=ORANGE, linewidths=0)

ax.set_xlim(0, 3200)
ax.set_ylim(2400, 0)
ax.axis("off")

fig.savefig("out.png", dpi=100)
